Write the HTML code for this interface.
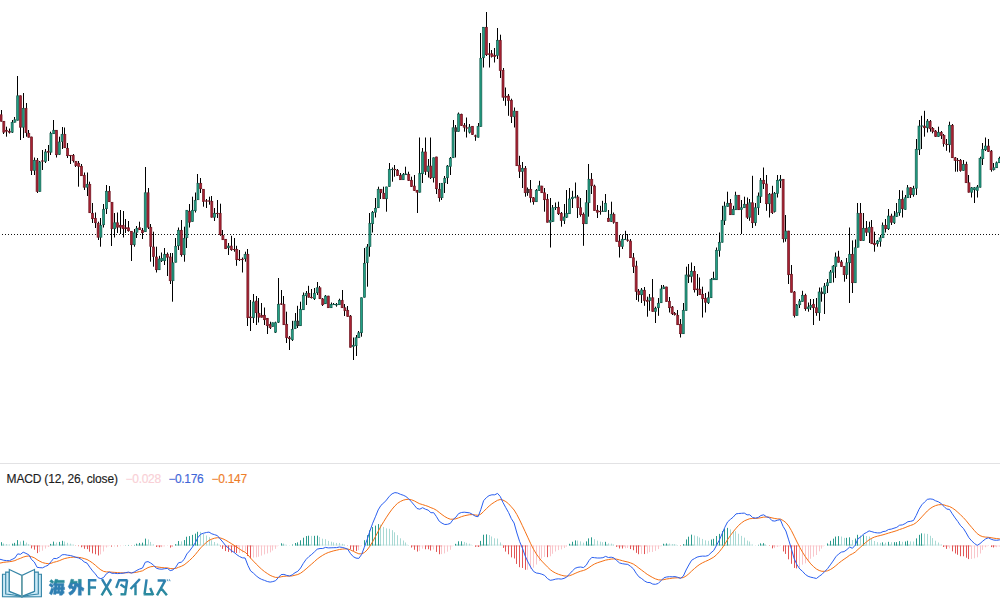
<!DOCTYPE html>
<html><head><meta charset="utf-8"><title>chart</title>
<style>
html,body{margin:0;padding:0;background:#fff;}
body{width:1000px;height:600px;overflow:hidden;position:relative;font-family:"Liberation Sans",sans-serif;}
svg{position:absolute;left:0;top:0;display:block}
.lbl{-webkit-text-stroke:0.15px currentColor;position:absolute;top:472px;font-size:12px;line-height:14px;white-space:nowrap;letter-spacing:0px}
</style></head><body>
<svg width="1000" height="600" viewBox="0 0 1000 600">
<rect width="1000" height="600" fill="#fff"/>
<line x1="2" y1="234.5" x2="1000" y2="234.5" stroke="#111" stroke-width="1" stroke-dasharray="1 2" shape-rendering="crispEdges"/>
<rect x="0" y="463" width="1000" height="1" fill="#e2e2e4"/>
<rect x="1" y="542.17" width="1" height="3.33" fill="#2a9a8c"/><rect x="3" y="543.42" width="1" height="2.08" fill="#a9d9d4"/><rect x="6" y="544.07" width="1" height="1.43" fill="#a9d9d4"/><rect x="9" y="544.48" width="1" height="1.02" fill="#a9d9d4"/><rect x="12" y="543.66" width="1" height="1.84" fill="#2a9a8c"/><rect x="14" y="542.85" width="1" height="2.65" fill="#2a9a8c"/><rect x="17" y="540.11" width="1" height="5.39" fill="#2a9a8c"/><rect x="20" y="541.51" width="1" height="3.99" fill="#a9d9d4"/><rect x="23" y="540.66" width="1" height="4.84" fill="#2a9a8c"/><rect x="26" y="542.59" width="1" height="2.91" fill="#a9d9d4"/><rect x="28" y="544.27" width="1" height="1.23" fill="#a9d9d4"/><rect x="31" y="545.50" width="1" height="2.87" fill="#e25555"/><rect x="34" y="545.50" width="1" height="4.17" fill="#e25555"/><rect x="37" y="545.50" width="1" height="7.60" fill="#e25555"/><rect x="39" y="545.50" width="1" height="6.42" fill="#f9c6cb"/><rect x="42" y="545.50" width="1" height="5.17" fill="#f9c6cb"/><rect x="45" y="545.50" width="1" height="3.04" fill="#f9c6cb"/><rect x="48" y="545.50" width="1" height="1.45" fill="#f9c6cb"/><rect x="50" y="543.89" width="1" height="1.61" fill="#2a9a8c"/><rect x="53" y="541.61" width="1" height="3.89" fill="#2a9a8c"/><rect x="56" y="542.54" width="1" height="2.96" fill="#a9d9d4"/><rect x="59" y="541.89" width="1" height="3.61" fill="#2a9a8c"/><rect x="62" y="540.81" width="1" height="4.69" fill="#2a9a8c"/><rect x="64" y="541.54" width="1" height="3.96" fill="#a9d9d4"/><rect x="67" y="542.82" width="1" height="2.68" fill="#a9d9d4"/><rect x="70" y="543.64" width="1" height="1.86" fill="#a9d9d4"/><rect x="73" y="544.60" width="1" height="0.90" fill="#a9d9d4"/><rect x="75" y="545.50" width="1" height="0.30" fill="#e25555"/><rect x="78" y="545.50" width="1" height="0.67" fill="#e25555"/><rect x="81" y="545.50" width="1" height="1.74" fill="#e25555"/><rect x="84" y="545.50" width="1" height="3.26" fill="#e25555"/><rect x="87" y="545.50" width="1" height="3.60" fill="#e25555"/><rect x="89" y="545.50" width="1" height="6.17" fill="#e25555"/><rect x="92" y="545.50" width="1" height="7.87" fill="#e25555"/><rect x="95" y="545.50" width="1" height="8.73" fill="#e25555"/><rect x="98" y="545.50" width="1" height="9.96" fill="#e25555"/><rect x="100" y="545.50" width="1" height="8.84" fill="#f9c6cb"/><rect x="103" y="545.50" width="1" height="5.96" fill="#f9c6cb"/><rect x="106" y="545.50" width="1" height="1.92" fill="#f9c6cb"/><rect x="109" y="545.50" width="1" height="0.30" fill="#f9c6cb"/><rect x="111" y="545.50" width="1" height="1.15" fill="#e25555"/><rect x="114" y="545.50" width="1" height="0.92" fill="#f9c6cb"/><rect x="117" y="545.50" width="1" height="0.94" fill="#e25555"/><rect x="120" y="545.50" width="1" height="0.64" fill="#f9c6cb"/><rect x="123" y="545.50" width="1" height="0.30" fill="#f9c6cb"/><rect x="125" y="545.32" width="1" height="0.30" fill="#2a9a8c"/><rect x="128" y="544.95" width="1" height="0.55" fill="#2a9a8c"/><rect x="131" y="545.50" width="1" height="0.30" fill="#e25555"/><rect x="134" y="544.88" width="1" height="0.62" fill="#2a9a8c"/><rect x="136" y="543.67" width="1" height="1.83" fill="#2a9a8c"/><rect x="139" y="542.95" width="1" height="2.55" fill="#2a9a8c"/><rect x="142" y="542.65" width="1" height="2.85" fill="#2a9a8c"/><rect x="145" y="538.62" width="1" height="6.88" fill="#2a9a8c"/><rect x="148" y="539.48" width="1" height="6.02" fill="#a9d9d4"/><rect x="150" y="541.91" width="1" height="3.59" fill="#a9d9d4"/><rect x="153" y="544.34" width="1" height="1.16" fill="#a9d9d4"/><rect x="156" y="545.50" width="1" height="1.47" fill="#e25555"/><rect x="159" y="545.50" width="1" height="1.78" fill="#e25555"/><rect x="161" y="545.50" width="1" height="1.61" fill="#f9c6cb"/><rect x="164" y="545.50" width="1" height="0.84" fill="#f9c6cb"/><rect x="167" y="545.50" width="1" height="0.43" fill="#f9c6cb"/><rect x="170" y="545.50" width="1" height="2.11" fill="#e25555"/><rect x="172" y="545.50" width="1" height="1.12" fill="#f9c6cb"/><rect x="175" y="544.19" width="1" height="1.31" fill="#2a9a8c"/><rect x="178" y="541.03" width="1" height="4.47" fill="#2a9a8c"/><rect x="181" y="541.40" width="1" height="4.10" fill="#a9d9d4"/><rect x="184" y="540.06" width="1" height="5.44" fill="#2a9a8c"/><rect x="186" y="536.73" width="1" height="8.77" fill="#2a9a8c"/><rect x="189" y="536.09" width="1" height="9.41" fill="#2a9a8c"/><rect x="192" y="534.88" width="1" height="10.62" fill="#2a9a8c"/><rect x="195" y="533.63" width="1" height="11.87" fill="#2a9a8c"/><rect x="197" y="531.79" width="1" height="13.71" fill="#2a9a8c"/><rect x="200" y="531.85" width="1" height="13.65" fill="#a9d9d4"/><rect x="203" y="533.76" width="1" height="11.74" fill="#a9d9d4"/><rect x="206" y="535.55" width="1" height="9.95" fill="#a9d9d4"/><rect x="209" y="537.21" width="1" height="8.29" fill="#a9d9d4"/><rect x="211" y="540.20" width="1" height="5.30" fill="#a9d9d4"/><rect x="214" y="541.99" width="1" height="3.51" fill="#a9d9d4"/><rect x="217" y="543.45" width="1" height="2.05" fill="#a9d9d4"/><rect x="220" y="545.50" width="1" height="0.98" fill="#e25555"/><rect x="222" y="545.50" width="1" height="3.36" fill="#e25555"/><rect x="225" y="545.50" width="1" height="5.56" fill="#e25555"/><rect x="228" y="545.50" width="1" height="6.39" fill="#e25555"/><rect x="231" y="545.50" width="1" height="6.99" fill="#e25555"/><rect x="234" y="545.50" width="1" height="7.01" fill="#e25555"/><rect x="236" y="545.50" width="1" height="7.57" fill="#e25555"/><rect x="239" y="545.50" width="1" height="7.51" fill="#f9c6cb"/><rect x="242" y="545.50" width="1" height="7.03" fill="#f9c6cb"/><rect x="245" y="545.50" width="1" height="5.75" fill="#f9c6cb"/><rect x="247" y="545.50" width="1" height="10.52" fill="#e25555"/><rect x="250" y="545.50" width="1" height="12.87" fill="#e25555"/><rect x="253" y="545.50" width="1" height="12.02" fill="#f9c6cb"/><rect x="256" y="545.50" width="1" height="11.76" fill="#f9c6cb"/><rect x="258" y="545.50" width="1" height="11.22" fill="#f9c6cb"/><rect x="261" y="545.50" width="1" height="10.09" fill="#f9c6cb"/><rect x="264" y="545.50" width="1" height="8.86" fill="#f9c6cb"/><rect x="267" y="545.50" width="1" height="7.94" fill="#f9c6cb"/><rect x="270" y="545.50" width="1" height="6.86" fill="#f9c6cb"/><rect x="272" y="545.50" width="1" height="5.04" fill="#f9c6cb"/><rect x="275" y="545.50" width="1" height="3.34" fill="#f9c6cb"/><rect x="278" y="545.50" width="1" height="0.30" fill="#f9c6cb"/><rect x="281" y="543.28" width="1" height="2.22" fill="#2a9a8c"/><rect x="283" y="543.56" width="1" height="1.94" fill="#a9d9d4"/><rect x="286" y="544.76" width="1" height="0.74" fill="#a9d9d4"/><rect x="289" y="545.36" width="1" height="0.30" fill="#a9d9d4"/><rect x="292" y="544.52" width="1" height="0.98" fill="#2a9a8c"/><rect x="295" y="543.00" width="1" height="2.50" fill="#2a9a8c"/><rect x="297" y="542.38" width="1" height="3.12" fill="#2a9a8c"/><rect x="300" y="540.30" width="1" height="5.20" fill="#2a9a8c"/><rect x="303" y="537.71" width="1" height="7.79" fill="#2a9a8c"/><rect x="306" y="536.06" width="1" height="9.44" fill="#2a9a8c"/><rect x="308" y="535.72" width="1" height="9.78" fill="#2a9a8c"/><rect x="311" y="535.87" width="1" height="9.63" fill="#a9d9d4"/><rect x="314" y="535.82" width="1" height="9.68" fill="#2a9a8c"/><rect x="317" y="535.63" width="1" height="9.87" fill="#2a9a8c"/><rect x="319" y="536.97" width="1" height="8.53" fill="#a9d9d4"/><rect x="322" y="538.70" width="1" height="6.80" fill="#a9d9d4"/><rect x="325" y="539.18" width="1" height="6.32" fill="#a9d9d4"/><rect x="328" y="540.87" width="1" height="4.63" fill="#a9d9d4"/><rect x="331" y="541.72" width="1" height="3.78" fill="#a9d9d4"/><rect x="333" y="542.39" width="1" height="3.11" fill="#a9d9d4"/><rect x="336" y="542.92" width="1" height="2.58" fill="#a9d9d4"/><rect x="339" y="542.96" width="1" height="2.54" fill="#a9d9d4"/><rect x="342" y="543.81" width="1" height="1.69" fill="#a9d9d4"/><rect x="344" y="544.67" width="1" height="0.83" fill="#a9d9d4"/><rect x="347" y="545.50" width="1" height="0.30" fill="#e25555"/><rect x="350" y="545.50" width="1" height="3.73" fill="#e25555"/><rect x="353" y="545.50" width="1" height="5.43" fill="#e25555"/><rect x="356" y="545.50" width="1" height="5.46" fill="#e25555"/><rect x="358" y="545.50" width="1" height="4.65" fill="#f9c6cb"/><rect x="361" y="545.50" width="1" height="0.56" fill="#f9c6cb"/><rect x="364" y="540.18" width="1" height="5.32" fill="#2a9a8c"/><rect x="367" y="535.18" width="1" height="10.32" fill="#2a9a8c"/><rect x="369" y="530.34" width="1" height="15.16" fill="#2a9a8c"/><rect x="372" y="527.06" width="1" height="18.44" fill="#2a9a8c"/><rect x="375" y="525.62" width="1" height="19.88" fill="#2a9a8c"/><rect x="378" y="524.07" width="1" height="21.43" fill="#2a9a8c"/><rect x="380" y="524.72" width="1" height="20.78" fill="#a9d9d4"/><rect x="383" y="526.94" width="1" height="18.56" fill="#a9d9d4"/><rect x="386" y="528.37" width="1" height="17.13" fill="#a9d9d4"/><rect x="389" y="528.77" width="1" height="16.73" fill="#a9d9d4"/><rect x="392" y="530.18" width="1" height="15.32" fill="#a9d9d4"/><rect x="394" y="532.29" width="1" height="13.21" fill="#a9d9d4"/><rect x="397" y="535.19" width="1" height="10.31" fill="#a9d9d4"/><rect x="400" y="538.31" width="1" height="7.19" fill="#a9d9d4"/><rect x="403" y="540.49" width="1" height="5.01" fill="#a9d9d4"/><rect x="405" y="542.48" width="1" height="3.02" fill="#a9d9d4"/><rect x="408" y="544.97" width="1" height="0.53" fill="#a9d9d4"/><rect x="411" y="545.50" width="1" height="2.01" fill="#e25555"/><rect x="414" y="545.50" width="1" height="4.29" fill="#e25555"/><rect x="417" y="545.50" width="1" height="6.04" fill="#e25555"/><rect x="419" y="545.50" width="1" height="5.40" fill="#f9c6cb"/><rect x="422" y="545.50" width="1" height="3.11" fill="#f9c6cb"/><rect x="425" y="545.50" width="1" height="3.73" fill="#e25555"/><rect x="428" y="545.50" width="1" height="3.73" fill="#e25555"/><rect x="430" y="545.50" width="1" height="5.02" fill="#e25555"/><rect x="433" y="545.50" width="1" height="3.99" fill="#f9c6cb"/><rect x="436" y="545.50" width="1" height="6.39" fill="#e25555"/><rect x="439" y="545.50" width="1" height="8.71" fill="#e25555"/><rect x="441" y="545.50" width="1" height="8.61" fill="#f9c6cb"/><rect x="444" y="545.50" width="1" height="7.90" fill="#f9c6cb"/><rect x="447" y="545.50" width="1" height="6.16" fill="#f9c6cb"/><rect x="450" y="545.50" width="1" height="4.26" fill="#f9c6cb"/><rect x="453" y="545.50" width="1" height="0.30" fill="#f9c6cb"/><rect x="455" y="543.84" width="1" height="1.66" fill="#2a9a8c"/><rect x="458" y="541.29" width="1" height="4.21" fill="#2a9a8c"/><rect x="461" y="541.28" width="1" height="4.22" fill="#2a9a8c"/><rect x="464" y="541.91" width="1" height="3.59" fill="#a9d9d4"/><rect x="466" y="542.85" width="1" height="2.65" fill="#a9d9d4"/><rect x="469" y="543.67" width="1" height="1.83" fill="#a9d9d4"/><rect x="472" y="545.30" width="1" height="0.30" fill="#a9d9d4"/><rect x="475" y="545.50" width="1" height="1.27" fill="#e25555"/><rect x="478" y="545.50" width="1" height="1.42" fill="#e25555"/><rect x="480" y="540.89" width="1" height="4.61" fill="#2a9a8c"/><rect x="483" y="534.74" width="1" height="10.76" fill="#2a9a8c"/><rect x="486" y="534.36" width="1" height="11.14" fill="#2a9a8c"/><rect x="489" y="535.00" width="1" height="10.50" fill="#a9d9d4"/><rect x="491" y="536.49" width="1" height="9.01" fill="#a9d9d4"/><rect x="494" y="538.27" width="1" height="7.23" fill="#a9d9d4"/><rect x="497" y="538.59" width="1" height="6.91" fill="#a9d9d4"/><rect x="500" y="542.43" width="1" height="3.07" fill="#a9d9d4"/><rect x="503" y="545.50" width="1" height="2.38" fill="#e25555"/><rect x="505" y="545.50" width="1" height="6.08" fill="#e25555"/><rect x="508" y="545.50" width="1" height="8.78" fill="#e25555"/><rect x="511" y="545.50" width="1" height="11.86" fill="#e25555"/><rect x="514" y="545.50" width="1" height="12.96" fill="#e25555"/><rect x="516" y="545.50" width="1" height="18.42" fill="#e25555"/><rect x="519" y="545.50" width="1" height="21.67" fill="#e25555"/><rect x="522" y="545.50" width="1" height="22.46" fill="#e25555"/><rect x="525" y="545.50" width="1" height="24.26" fill="#e25555"/><rect x="527" y="545.50" width="1" height="24.24" fill="#f9c6cb"/><rect x="530" y="545.50" width="1" height="23.48" fill="#f9c6cb"/><rect x="533" y="545.50" width="1" height="22.16" fill="#f9c6cb"/><rect x="536" y="545.50" width="1" height="19.01" fill="#f9c6cb"/><rect x="539" y="545.50" width="1" height="15.53" fill="#f9c6cb"/><rect x="541" y="545.50" width="1" height="13.11" fill="#f9c6cb"/><rect x="544" y="545.50" width="1" height="11.41" fill="#f9c6cb"/><rect x="547" y="545.50" width="1" height="11.66" fill="#e25555"/><rect x="550" y="545.50" width="1" height="10.76" fill="#f9c6cb"/><rect x="552" y="545.50" width="1" height="8.25" fill="#f9c6cb"/><rect x="555" y="545.50" width="1" height="5.95" fill="#f9c6cb"/><rect x="558" y="545.50" width="1" height="4.58" fill="#f9c6cb"/><rect x="561" y="545.50" width="1" height="3.85" fill="#f9c6cb"/><rect x="564" y="545.50" width="1" height="2.52" fill="#f9c6cb"/><rect x="566" y="545.50" width="1" height="0.93" fill="#f9c6cb"/><rect x="569" y="543.77" width="1" height="1.73" fill="#2a9a8c"/><rect x="572" y="541.75" width="1" height="3.75" fill="#2a9a8c"/><rect x="575" y="540.38" width="1" height="5.12" fill="#2a9a8c"/><rect x="577" y="540.57" width="1" height="4.93" fill="#a9d9d4"/><rect x="580" y="541.35" width="1" height="4.15" fill="#a9d9d4"/><rect x="583" y="542.65" width="1" height="2.85" fill="#a9d9d4"/><rect x="586" y="541.38" width="1" height="4.12" fill="#2a9a8c"/><rect x="588" y="538.38" width="1" height="7.12" fill="#2a9a8c"/><rect x="591" y="537.32" width="1" height="8.18" fill="#2a9a8c"/><rect x="594" y="539.20" width="1" height="6.30" fill="#a9d9d4"/><rect x="597" y="540.68" width="1" height="4.82" fill="#a9d9d4"/><rect x="600" y="541.65" width="1" height="3.85" fill="#a9d9d4"/><rect x="602" y="542.19" width="1" height="3.31" fill="#a9d9d4"/><rect x="605" y="541.83" width="1" height="3.67" fill="#2a9a8c"/><rect x="608" y="543.39" width="1" height="2.11" fill="#a9d9d4"/><rect x="611" y="543.62" width="1" height="1.88" fill="#a9d9d4"/><rect x="613" y="544.53" width="1" height="0.97" fill="#a9d9d4"/><rect x="616" y="545.50" width="1" height="1.30" fill="#e25555"/><rect x="619" y="545.50" width="1" height="2.98" fill="#e25555"/><rect x="622" y="545.50" width="1" height="3.02" fill="#e25555"/><rect x="625" y="545.50" width="1" height="2.75" fill="#f9c6cb"/><rect x="627" y="545.50" width="1" height="2.44" fill="#f9c6cb"/><rect x="630" y="545.50" width="1" height="3.56" fill="#e25555"/><rect x="633" y="545.50" width="1" height="4.72" fill="#e25555"/><rect x="636" y="545.50" width="1" height="7.34" fill="#e25555"/><rect x="638" y="545.50" width="1" height="8.71" fill="#e25555"/><rect x="641" y="545.50" width="1" height="8.40" fill="#f9c6cb"/><rect x="644" y="545.50" width="1" height="8.57" fill="#e25555"/><rect x="647" y="545.50" width="1" height="8.05" fill="#f9c6cb"/><rect x="649" y="545.50" width="1" height="6.65" fill="#f9c6cb"/><rect x="652" y="545.50" width="1" height="6.45" fill="#f9c6cb"/><rect x="655" y="545.50" width="1" height="5.34" fill="#f9c6cb"/><rect x="658" y="545.50" width="1" height="3.59" fill="#f9c6cb"/><rect x="661" y="545.50" width="1" height="0.65" fill="#f9c6cb"/><rect x="663" y="543.76" width="1" height="1.74" fill="#2a9a8c"/><rect x="666" y="543.43" width="1" height="2.07" fill="#2a9a8c"/><rect x="669" y="543.61" width="1" height="1.89" fill="#a9d9d4"/><rect x="672" y="544.06" width="1" height="1.44" fill="#a9d9d4"/><rect x="674" y="544.21" width="1" height="1.29" fill="#a9d9d4"/><rect x="677" y="544.99" width="1" height="0.51" fill="#a9d9d4"/><rect x="680" y="545.50" width="1" height="0.54" fill="#e25555"/><rect x="683" y="544.14" width="1" height="1.36" fill="#2a9a8c"/><rect x="686" y="539.43" width="1" height="6.07" fill="#2a9a8c"/><rect x="688" y="536.70" width="1" height="8.80" fill="#2a9a8c"/><rect x="691" y="534.65" width="1" height="10.85" fill="#2a9a8c"/><rect x="694" y="535.46" width="1" height="10.04" fill="#a9d9d4"/><rect x="697" y="536.27" width="1" height="9.23" fill="#a9d9d4"/><rect x="699" y="537.53" width="1" height="7.97" fill="#a9d9d4"/><rect x="702" y="538.93" width="1" height="6.57" fill="#a9d9d4"/><rect x="705" y="540.31" width="1" height="5.19" fill="#a9d9d4"/><rect x="708" y="540.83" width="1" height="4.67" fill="#a9d9d4"/><rect x="711" y="539.54" width="1" height="5.96" fill="#2a9a8c"/><rect x="713" y="538.82" width="1" height="6.68" fill="#2a9a8c"/><rect x="716" y="536.00" width="1" height="9.50" fill="#2a9a8c"/><rect x="719" y="533.89" width="1" height="11.61" fill="#2a9a8c"/><rect x="722" y="531.07" width="1" height="14.43" fill="#2a9a8c"/><rect x="724" y="528.71" width="1" height="16.79" fill="#2a9a8c"/><rect x="727" y="527.85" width="1" height="17.65" fill="#2a9a8c"/><rect x="730" y="529.40" width="1" height="16.10" fill="#a9d9d4"/><rect x="733" y="530.74" width="1" height="14.76" fill="#a9d9d4"/><rect x="735" y="531.17" width="1" height="14.33" fill="#a9d9d4"/><rect x="738" y="533.73" width="1" height="11.77" fill="#a9d9d4"/><rect x="741" y="535.89" width="1" height="9.61" fill="#a9d9d4"/><rect x="744" y="537.62" width="1" height="7.88" fill="#a9d9d4"/><rect x="747" y="540.59" width="1" height="4.91" fill="#a9d9d4"/><rect x="749" y="541.54" width="1" height="3.96" fill="#a9d9d4"/><rect x="752" y="544.48" width="1" height="1.02" fill="#a9d9d4"/><rect x="755" y="545.18" width="1" height="0.32" fill="#a9d9d4"/><rect x="758" y="544.78" width="1" height="0.72" fill="#2a9a8c"/><rect x="760" y="543.34" width="1" height="2.16" fill="#2a9a8c"/><rect x="763" y="543.17" width="1" height="2.33" fill="#2a9a8c"/><rect x="766" y="545.29" width="1" height="0.30" fill="#a9d9d4"/><rect x="769" y="545.50" width="1" height="0.45" fill="#e25555"/><rect x="772" y="545.50" width="1" height="2.86" fill="#e25555"/><rect x="774" y="545.50" width="1" height="2.60" fill="#f9c6cb"/><rect x="777" y="545.50" width="1" height="1.33" fill="#f9c6cb"/><rect x="780" y="545.50" width="1" height="0.61" fill="#f9c6cb"/><rect x="783" y="545.50" width="1" height="5.93" fill="#e25555"/><rect x="785" y="545.50" width="1" height="8.41" fill="#e25555"/><rect x="788" y="545.50" width="1" height="13.83" fill="#e25555"/><rect x="791" y="545.50" width="1" height="18.30" fill="#e25555"/><rect x="794" y="545.50" width="1" height="22.43" fill="#e25555"/><rect x="796" y="545.50" width="1" height="22.89" fill="#e25555"/><rect x="799" y="545.50" width="1" height="21.64" fill="#f9c6cb"/><rect x="802" y="545.50" width="1" height="19.15" fill="#f9c6cb"/><rect x="805" y="545.50" width="1" height="17.82" fill="#f9c6cb"/><rect x="808" y="545.50" width="1" height="15.73" fill="#f9c6cb"/><rect x="810" y="545.50" width="1" height="13.29" fill="#f9c6cb"/><rect x="813" y="545.50" width="1" height="11.17" fill="#f9c6cb"/><rect x="816" y="545.50" width="1" height="9.51" fill="#f9c6cb"/><rect x="819" y="545.50" width="1" height="5.78" fill="#f9c6cb"/><rect x="821" y="545.50" width="1" height="3.11" fill="#f9c6cb"/><rect x="824" y="545.50" width="1" height="0.30" fill="#f9c6cb"/><rect x="827" y="543.42" width="1" height="2.08" fill="#2a9a8c"/><rect x="830" y="540.81" width="1" height="4.69" fill="#2a9a8c"/><rect x="833" y="538.65" width="1" height="6.85" fill="#2a9a8c"/><rect x="835" y="536.59" width="1" height="8.91" fill="#2a9a8c"/><rect x="838" y="536.12" width="1" height="9.38" fill="#2a9a8c"/><rect x="841" y="536.53" width="1" height="8.97" fill="#a9d9d4"/><rect x="844" y="537.88" width="1" height="7.62" fill="#a9d9d4"/><rect x="846" y="537.83" width="1" height="7.67" fill="#2a9a8c"/><rect x="849" y="537.29" width="1" height="8.21" fill="#2a9a8c"/><rect x="852" y="539.98" width="1" height="5.52" fill="#a9d9d4"/><rect x="855" y="538.57" width="1" height="6.93" fill="#2a9a8c"/><rect x="857" y="534.78" width="1" height="10.72" fill="#2a9a8c"/><rect x="860" y="535.50" width="1" height="10.00" fill="#a9d9d4"/><rect x="863" y="535.27" width="1" height="10.23" fill="#2a9a8c"/><rect x="866" y="536.08" width="1" height="9.42" fill="#a9d9d4"/><rect x="869" y="536.59" width="1" height="8.91" fill="#a9d9d4"/><rect x="871" y="539.00" width="1" height="6.50" fill="#a9d9d4"/><rect x="874" y="541.00" width="1" height="4.50" fill="#a9d9d4"/><rect x="877" y="542.17" width="1" height="3.33" fill="#a9d9d4"/><rect x="880" y="542.85" width="1" height="2.65" fill="#a9d9d4"/><rect x="882" y="542.33" width="1" height="3.17" fill="#2a9a8c"/><rect x="885" y="542.63" width="1" height="2.87" fill="#a9d9d4"/><rect x="888" y="541.84" width="1" height="3.66" fill="#2a9a8c"/><rect x="891" y="542.26" width="1" height="3.24" fill="#a9d9d4"/><rect x="894" y="542.19" width="1" height="3.31" fill="#2a9a8c"/><rect x="896" y="542.12" width="1" height="3.38" fill="#2a9a8c"/><rect x="899" y="541.13" width="1" height="4.37" fill="#2a9a8c"/><rect x="902" y="541.81" width="1" height="3.69" fill="#a9d9d4"/><rect x="905" y="541.50" width="1" height="4.00" fill="#2a9a8c"/><rect x="907" y="540.74" width="1" height="4.76" fill="#2a9a8c"/><rect x="910" y="541.38" width="1" height="4.12" fill="#a9d9d4"/><rect x="913" y="541.54" width="1" height="3.96" fill="#a9d9d4"/><rect x="916" y="538.39" width="1" height="7.11" fill="#2a9a8c"/><rect x="919" y="534.82" width="1" height="10.68" fill="#2a9a8c"/><rect x="921" y="533.35" width="1" height="12.15" fill="#2a9a8c"/><rect x="924" y="533.54" width="1" height="11.96" fill="#a9d9d4"/><rect x="927" y="533.90" width="1" height="11.60" fill="#a9d9d4"/><rect x="930" y="535.80" width="1" height="9.70" fill="#a9d9d4"/><rect x="932" y="538.08" width="1" height="7.42" fill="#a9d9d4"/><rect x="935" y="540.70" width="1" height="4.80" fill="#a9d9d4"/><rect x="938" y="542.52" width="1" height="2.98" fill="#a9d9d4"/><rect x="941" y="544.53" width="1" height="0.97" fill="#a9d9d4"/><rect x="943" y="545.50" width="1" height="1.46" fill="#e25555"/><rect x="946" y="545.50" width="1" height="3.37" fill="#e25555"/><rect x="949" y="545.50" width="1" height="2.88" fill="#f9c6cb"/><rect x="952" y="545.50" width="1" height="5.83" fill="#e25555"/><rect x="955" y="545.50" width="1" height="7.97" fill="#e25555"/><rect x="957" y="545.50" width="1" height="9.23" fill="#e25555"/><rect x="960" y="545.50" width="1" height="10.74" fill="#e25555"/><rect x="963" y="545.50" width="1" height="10.76" fill="#e25555"/><rect x="966" y="545.50" width="1" height="12.22" fill="#e25555"/><rect x="968" y="545.50" width="1" height="13.59" fill="#e25555"/><rect x="971" y="545.50" width="1" height="13.46" fill="#f9c6cb"/><rect x="974" y="545.50" width="1" height="12.83" fill="#f9c6cb"/><rect x="977" y="545.50" width="1" height="11.81" fill="#f9c6cb"/><rect x="980" y="545.50" width="1" height="7.99" fill="#f9c6cb"/><rect x="982" y="545.50" width="1" height="4.42" fill="#f9c6cb"/><rect x="985" y="545.50" width="1" height="1.72" fill="#f9c6cb"/><rect x="988" y="545.50" width="1" height="0.56" fill="#f9c6cb"/><rect x="991" y="545.50" width="1" height="1.57" fill="#e25555"/><rect x="993" y="545.50" width="1" height="1.94" fill="#e25555"/><rect x="996" y="545.50" width="1" height="1.67" fill="#f9c6cb"/><rect x="999" y="545.50" width="1" height="1.05" fill="#f9c6cb"/>
<rect x="1" y="544.60" width="3" height="0.9" fill="#2a9a8c" opacity="0.55"/><rect x="3" y="544.60" width="3" height="0.9" fill="#a9d9d4" opacity="0.55"/><rect x="6" y="544.60" width="3" height="0.9" fill="#a9d9d4" opacity="0.55"/><rect x="12" y="544.60" width="3" height="0.9" fill="#2a9a8c" opacity="0.55"/><rect x="14" y="544.60" width="3" height="0.9" fill="#2a9a8c" opacity="0.55"/><rect x="17" y="544.60" width="3" height="0.9" fill="#2a9a8c" opacity="0.55"/><rect x="20" y="544.60" width="3" height="0.9" fill="#a9d9d4" opacity="0.55"/><rect x="23" y="544.60" width="3" height="0.9" fill="#2a9a8c" opacity="0.55"/><rect x="26" y="544.60" width="3" height="0.9" fill="#a9d9d4" opacity="0.55"/><rect x="28" y="544.60" width="3" height="0.9" fill="#a9d9d4" opacity="0.55"/><rect x="31" y="545.50" width="3" height="0.9" fill="#e25555" opacity="0.55"/><rect x="34" y="545.50" width="3" height="0.9" fill="#e25555" opacity="0.55"/><rect x="37" y="545.50" width="3" height="0.9" fill="#e25555" opacity="0.55"/><rect x="39" y="545.50" width="3" height="0.9" fill="#f9c6cb" opacity="0.55"/><rect x="42" y="545.50" width="3" height="0.9" fill="#f9c6cb" opacity="0.55"/><rect x="45" y="545.50" width="3" height="0.9" fill="#f9c6cb" opacity="0.55"/><rect x="48" y="545.50" width="3" height="0.9" fill="#f9c6cb" opacity="0.55"/><rect x="50" y="544.60" width="3" height="0.9" fill="#2a9a8c" opacity="0.55"/><rect x="53" y="544.60" width="3" height="0.9" fill="#2a9a8c" opacity="0.55"/><rect x="56" y="544.60" width="3" height="0.9" fill="#a9d9d4" opacity="0.55"/><rect x="59" y="544.60" width="3" height="0.9" fill="#2a9a8c" opacity="0.55"/><rect x="62" y="544.60" width="3" height="0.9" fill="#2a9a8c" opacity="0.55"/><rect x="64" y="544.60" width="3" height="0.9" fill="#a9d9d4" opacity="0.55"/><rect x="67" y="544.60" width="3" height="0.9" fill="#a9d9d4" opacity="0.55"/><rect x="70" y="544.60" width="3" height="0.9" fill="#a9d9d4" opacity="0.55"/><rect x="81" y="545.50" width="3" height="0.9" fill="#e25555" opacity="0.55"/><rect x="84" y="545.50" width="3" height="0.9" fill="#e25555" opacity="0.55"/><rect x="87" y="545.50" width="3" height="0.9" fill="#e25555" opacity="0.55"/><rect x="89" y="545.50" width="3" height="0.9" fill="#e25555" opacity="0.55"/><rect x="92" y="545.50" width="3" height="0.9" fill="#e25555" opacity="0.55"/><rect x="95" y="545.50" width="3" height="0.9" fill="#e25555" opacity="0.55"/><rect x="98" y="545.50" width="3" height="0.9" fill="#e25555" opacity="0.55"/><rect x="100" y="545.50" width="3" height="0.9" fill="#f9c6cb" opacity="0.55"/><rect x="103" y="545.50" width="3" height="0.9" fill="#f9c6cb" opacity="0.55"/><rect x="106" y="545.50" width="3" height="0.9" fill="#f9c6cb" opacity="0.55"/><rect x="136" y="544.60" width="3" height="0.9" fill="#2a9a8c" opacity="0.55"/><rect x="139" y="544.60" width="3" height="0.9" fill="#2a9a8c" opacity="0.55"/><rect x="142" y="544.60" width="3" height="0.9" fill="#2a9a8c" opacity="0.55"/><rect x="145" y="544.60" width="3" height="0.9" fill="#2a9a8c" opacity="0.55"/><rect x="148" y="544.60" width="3" height="0.9" fill="#a9d9d4" opacity="0.55"/><rect x="150" y="544.60" width="3" height="0.9" fill="#a9d9d4" opacity="0.55"/><rect x="156" y="545.50" width="3" height="0.9" fill="#e25555" opacity="0.55"/><rect x="159" y="545.50" width="3" height="0.9" fill="#e25555" opacity="0.55"/><rect x="161" y="545.50" width="3" height="0.9" fill="#f9c6cb" opacity="0.55"/><rect x="170" y="545.50" width="3" height="0.9" fill="#e25555" opacity="0.55"/><rect x="175" y="544.60" width="3" height="0.9" fill="#2a9a8c" opacity="0.55"/><rect x="178" y="544.60" width="3" height="0.9" fill="#2a9a8c" opacity="0.55"/><rect x="181" y="544.60" width="3" height="0.9" fill="#a9d9d4" opacity="0.55"/><rect x="184" y="544.60" width="3" height="0.9" fill="#2a9a8c" opacity="0.55"/><rect x="186" y="544.60" width="3" height="0.9" fill="#2a9a8c" opacity="0.55"/><rect x="189" y="544.60" width="3" height="0.9" fill="#2a9a8c" opacity="0.55"/><rect x="192" y="544.60" width="3" height="0.9" fill="#2a9a8c" opacity="0.55"/><rect x="195" y="544.60" width="3" height="0.9" fill="#2a9a8c" opacity="0.55"/><rect x="197" y="544.60" width="3" height="0.9" fill="#2a9a8c" opacity="0.55"/><rect x="200" y="544.60" width="3" height="0.9" fill="#a9d9d4" opacity="0.55"/><rect x="203" y="544.60" width="3" height="0.9" fill="#a9d9d4" opacity="0.55"/><rect x="206" y="544.60" width="3" height="0.9" fill="#a9d9d4" opacity="0.55"/><rect x="209" y="544.60" width="3" height="0.9" fill="#a9d9d4" opacity="0.55"/><rect x="211" y="544.60" width="3" height="0.9" fill="#a9d9d4" opacity="0.55"/><rect x="214" y="544.60" width="3" height="0.9" fill="#a9d9d4" opacity="0.55"/><rect x="217" y="544.60" width="3" height="0.9" fill="#a9d9d4" opacity="0.55"/><rect x="222" y="545.50" width="3" height="0.9" fill="#e25555" opacity="0.55"/><rect x="225" y="545.50" width="3" height="0.9" fill="#e25555" opacity="0.55"/><rect x="228" y="545.50" width="3" height="0.9" fill="#e25555" opacity="0.55"/><rect x="231" y="545.50" width="3" height="0.9" fill="#e25555" opacity="0.55"/><rect x="234" y="545.50" width="3" height="0.9" fill="#e25555" opacity="0.55"/><rect x="236" y="545.50" width="3" height="0.9" fill="#e25555" opacity="0.55"/><rect x="239" y="545.50" width="3" height="0.9" fill="#f9c6cb" opacity="0.55"/><rect x="242" y="545.50" width="3" height="0.9" fill="#f9c6cb" opacity="0.55"/><rect x="245" y="545.50" width="3" height="0.9" fill="#f9c6cb" opacity="0.55"/><rect x="247" y="545.50" width="3" height="0.9" fill="#e25555" opacity="0.55"/><rect x="250" y="545.50" width="3" height="0.9" fill="#e25555" opacity="0.55"/><rect x="253" y="545.50" width="3" height="0.9" fill="#f9c6cb" opacity="0.55"/><rect x="256" y="545.50" width="3" height="0.9" fill="#f9c6cb" opacity="0.55"/><rect x="258" y="545.50" width="3" height="0.9" fill="#f9c6cb" opacity="0.55"/><rect x="261" y="545.50" width="3" height="0.9" fill="#f9c6cb" opacity="0.55"/><rect x="264" y="545.50" width="3" height="0.9" fill="#f9c6cb" opacity="0.55"/><rect x="267" y="545.50" width="3" height="0.9" fill="#f9c6cb" opacity="0.55"/><rect x="270" y="545.50" width="3" height="0.9" fill="#f9c6cb" opacity="0.55"/><rect x="272" y="545.50" width="3" height="0.9" fill="#f9c6cb" opacity="0.55"/><rect x="275" y="545.50" width="3" height="0.9" fill="#f9c6cb" opacity="0.55"/><rect x="281" y="544.60" width="3" height="0.9" fill="#2a9a8c" opacity="0.55"/><rect x="283" y="544.60" width="3" height="0.9" fill="#a9d9d4" opacity="0.55"/><rect x="295" y="544.60" width="3" height="0.9" fill="#2a9a8c" opacity="0.55"/><rect x="297" y="544.60" width="3" height="0.9" fill="#2a9a8c" opacity="0.55"/><rect x="300" y="544.60" width="3" height="0.9" fill="#2a9a8c" opacity="0.55"/><rect x="303" y="544.60" width="3" height="0.9" fill="#2a9a8c" opacity="0.55"/><rect x="306" y="544.60" width="3" height="0.9" fill="#2a9a8c" opacity="0.55"/><rect x="308" y="544.60" width="3" height="0.9" fill="#2a9a8c" opacity="0.55"/><rect x="311" y="544.60" width="3" height="0.9" fill="#a9d9d4" opacity="0.55"/><rect x="314" y="544.60" width="3" height="0.9" fill="#2a9a8c" opacity="0.55"/><rect x="317" y="544.60" width="3" height="0.9" fill="#2a9a8c" opacity="0.55"/><rect x="319" y="544.60" width="3" height="0.9" fill="#a9d9d4" opacity="0.55"/><rect x="322" y="544.60" width="3" height="0.9" fill="#a9d9d4" opacity="0.55"/><rect x="325" y="544.60" width="3" height="0.9" fill="#a9d9d4" opacity="0.55"/><rect x="328" y="544.60" width="3" height="0.9" fill="#a9d9d4" opacity="0.55"/><rect x="331" y="544.60" width="3" height="0.9" fill="#a9d9d4" opacity="0.55"/><rect x="333" y="544.60" width="3" height="0.9" fill="#a9d9d4" opacity="0.55"/><rect x="336" y="544.60" width="3" height="0.9" fill="#a9d9d4" opacity="0.55"/><rect x="339" y="544.60" width="3" height="0.9" fill="#a9d9d4" opacity="0.55"/><rect x="342" y="544.60" width="3" height="0.9" fill="#a9d9d4" opacity="0.55"/><rect x="350" y="545.50" width="3" height="0.9" fill="#e25555" opacity="0.55"/><rect x="353" y="545.50" width="3" height="0.9" fill="#e25555" opacity="0.55"/><rect x="356" y="545.50" width="3" height="0.9" fill="#e25555" opacity="0.55"/><rect x="358" y="545.50" width="3" height="0.9" fill="#f9c6cb" opacity="0.55"/><rect x="364" y="544.60" width="3" height="0.9" fill="#2a9a8c" opacity="0.55"/><rect x="367" y="544.60" width="3" height="0.9" fill="#2a9a8c" opacity="0.55"/><rect x="369" y="544.60" width="3" height="0.9" fill="#2a9a8c" opacity="0.55"/><rect x="372" y="544.60" width="3" height="0.9" fill="#2a9a8c" opacity="0.55"/><rect x="375" y="544.60" width="3" height="0.9" fill="#2a9a8c" opacity="0.55"/><rect x="378" y="544.60" width="3" height="0.9" fill="#2a9a8c" opacity="0.55"/><rect x="380" y="544.60" width="3" height="0.9" fill="#a9d9d4" opacity="0.55"/><rect x="383" y="544.60" width="3" height="0.9" fill="#a9d9d4" opacity="0.55"/><rect x="386" y="544.60" width="3" height="0.9" fill="#a9d9d4" opacity="0.55"/><rect x="389" y="544.60" width="3" height="0.9" fill="#a9d9d4" opacity="0.55"/><rect x="392" y="544.60" width="3" height="0.9" fill="#a9d9d4" opacity="0.55"/><rect x="394" y="544.60" width="3" height="0.9" fill="#a9d9d4" opacity="0.55"/><rect x="397" y="544.60" width="3" height="0.9" fill="#a9d9d4" opacity="0.55"/><rect x="400" y="544.60" width="3" height="0.9" fill="#a9d9d4" opacity="0.55"/><rect x="403" y="544.60" width="3" height="0.9" fill="#a9d9d4" opacity="0.55"/><rect x="405" y="544.60" width="3" height="0.9" fill="#a9d9d4" opacity="0.55"/><rect x="411" y="545.50" width="3" height="0.9" fill="#e25555" opacity="0.55"/><rect x="414" y="545.50" width="3" height="0.9" fill="#e25555" opacity="0.55"/><rect x="417" y="545.50" width="3" height="0.9" fill="#e25555" opacity="0.55"/><rect x="419" y="545.50" width="3" height="0.9" fill="#f9c6cb" opacity="0.55"/><rect x="422" y="545.50" width="3" height="0.9" fill="#f9c6cb" opacity="0.55"/><rect x="425" y="545.50" width="3" height="0.9" fill="#e25555" opacity="0.55"/><rect x="428" y="545.50" width="3" height="0.9" fill="#e25555" opacity="0.55"/><rect x="430" y="545.50" width="3" height="0.9" fill="#e25555" opacity="0.55"/><rect x="433" y="545.50" width="3" height="0.9" fill="#f9c6cb" opacity="0.55"/><rect x="436" y="545.50" width="3" height="0.9" fill="#e25555" opacity="0.55"/><rect x="439" y="545.50" width="3" height="0.9" fill="#e25555" opacity="0.55"/><rect x="441" y="545.50" width="3" height="0.9" fill="#f9c6cb" opacity="0.55"/><rect x="444" y="545.50" width="3" height="0.9" fill="#f9c6cb" opacity="0.55"/><rect x="447" y="545.50" width="3" height="0.9" fill="#f9c6cb" opacity="0.55"/><rect x="450" y="545.50" width="3" height="0.9" fill="#f9c6cb" opacity="0.55"/><rect x="455" y="544.60" width="3" height="0.9" fill="#2a9a8c" opacity="0.55"/><rect x="458" y="544.60" width="3" height="0.9" fill="#2a9a8c" opacity="0.55"/><rect x="461" y="544.60" width="3" height="0.9" fill="#2a9a8c" opacity="0.55"/><rect x="464" y="544.60" width="3" height="0.9" fill="#a9d9d4" opacity="0.55"/><rect x="466" y="544.60" width="3" height="0.9" fill="#a9d9d4" opacity="0.55"/><rect x="469" y="544.60" width="3" height="0.9" fill="#a9d9d4" opacity="0.55"/><rect x="475" y="545.50" width="3" height="0.9" fill="#e25555" opacity="0.55"/><rect x="478" y="545.50" width="3" height="0.9" fill="#e25555" opacity="0.55"/><rect x="480" y="544.60" width="3" height="0.9" fill="#2a9a8c" opacity="0.55"/><rect x="483" y="544.60" width="3" height="0.9" fill="#2a9a8c" opacity="0.55"/><rect x="486" y="544.60" width="3" height="0.9" fill="#2a9a8c" opacity="0.55"/><rect x="489" y="544.60" width="3" height="0.9" fill="#a9d9d4" opacity="0.55"/><rect x="491" y="544.60" width="3" height="0.9" fill="#a9d9d4" opacity="0.55"/><rect x="494" y="544.60" width="3" height="0.9" fill="#a9d9d4" opacity="0.55"/><rect x="497" y="544.60" width="3" height="0.9" fill="#a9d9d4" opacity="0.55"/><rect x="500" y="544.60" width="3" height="0.9" fill="#a9d9d4" opacity="0.55"/><rect x="503" y="545.50" width="3" height="0.9" fill="#e25555" opacity="0.55"/><rect x="505" y="545.50" width="3" height="0.9" fill="#e25555" opacity="0.55"/><rect x="508" y="545.50" width="3" height="0.9" fill="#e25555" opacity="0.55"/><rect x="511" y="545.50" width="3" height="0.9" fill="#e25555" opacity="0.55"/><rect x="514" y="545.50" width="3" height="0.9" fill="#e25555" opacity="0.55"/><rect x="516" y="545.50" width="3" height="0.9" fill="#e25555" opacity="0.55"/><rect x="519" y="545.50" width="3" height="0.9" fill="#e25555" opacity="0.55"/><rect x="522" y="545.50" width="3" height="0.9" fill="#e25555" opacity="0.55"/><rect x="525" y="545.50" width="3" height="0.9" fill="#e25555" opacity="0.55"/><rect x="527" y="545.50" width="3" height="0.9" fill="#f9c6cb" opacity="0.55"/><rect x="530" y="545.50" width="3" height="0.9" fill="#f9c6cb" opacity="0.55"/><rect x="533" y="545.50" width="3" height="0.9" fill="#f9c6cb" opacity="0.55"/><rect x="536" y="545.50" width="3" height="0.9" fill="#f9c6cb" opacity="0.55"/><rect x="539" y="545.50" width="3" height="0.9" fill="#f9c6cb" opacity="0.55"/><rect x="541" y="545.50" width="3" height="0.9" fill="#f9c6cb" opacity="0.55"/><rect x="544" y="545.50" width="3" height="0.9" fill="#f9c6cb" opacity="0.55"/><rect x="547" y="545.50" width="3" height="0.9" fill="#e25555" opacity="0.55"/><rect x="550" y="545.50" width="3" height="0.9" fill="#f9c6cb" opacity="0.55"/><rect x="552" y="545.50" width="3" height="0.9" fill="#f9c6cb" opacity="0.55"/><rect x="555" y="545.50" width="3" height="0.9" fill="#f9c6cb" opacity="0.55"/><rect x="558" y="545.50" width="3" height="0.9" fill="#f9c6cb" opacity="0.55"/><rect x="561" y="545.50" width="3" height="0.9" fill="#f9c6cb" opacity="0.55"/><rect x="564" y="545.50" width="3" height="0.9" fill="#f9c6cb" opacity="0.55"/><rect x="569" y="544.60" width="3" height="0.9" fill="#2a9a8c" opacity="0.55"/><rect x="572" y="544.60" width="3" height="0.9" fill="#2a9a8c" opacity="0.55"/><rect x="575" y="544.60" width="3" height="0.9" fill="#2a9a8c" opacity="0.55"/><rect x="577" y="544.60" width="3" height="0.9" fill="#a9d9d4" opacity="0.55"/><rect x="580" y="544.60" width="3" height="0.9" fill="#a9d9d4" opacity="0.55"/><rect x="583" y="544.60" width="3" height="0.9" fill="#a9d9d4" opacity="0.55"/><rect x="586" y="544.60" width="3" height="0.9" fill="#2a9a8c" opacity="0.55"/><rect x="588" y="544.60" width="3" height="0.9" fill="#2a9a8c" opacity="0.55"/><rect x="591" y="544.60" width="3" height="0.9" fill="#2a9a8c" opacity="0.55"/><rect x="594" y="544.60" width="3" height="0.9" fill="#a9d9d4" opacity="0.55"/><rect x="597" y="544.60" width="3" height="0.9" fill="#a9d9d4" opacity="0.55"/><rect x="600" y="544.60" width="3" height="0.9" fill="#a9d9d4" opacity="0.55"/><rect x="602" y="544.60" width="3" height="0.9" fill="#a9d9d4" opacity="0.55"/><rect x="605" y="544.60" width="3" height="0.9" fill="#2a9a8c" opacity="0.55"/><rect x="608" y="544.60" width="3" height="0.9" fill="#a9d9d4" opacity="0.55"/><rect x="611" y="544.60" width="3" height="0.9" fill="#a9d9d4" opacity="0.55"/><rect x="616" y="545.50" width="3" height="0.9" fill="#e25555" opacity="0.55"/><rect x="619" y="545.50" width="3" height="0.9" fill="#e25555" opacity="0.55"/><rect x="622" y="545.50" width="3" height="0.9" fill="#e25555" opacity="0.55"/><rect x="625" y="545.50" width="3" height="0.9" fill="#f9c6cb" opacity="0.55"/><rect x="627" y="545.50" width="3" height="0.9" fill="#f9c6cb" opacity="0.55"/><rect x="630" y="545.50" width="3" height="0.9" fill="#e25555" opacity="0.55"/><rect x="633" y="545.50" width="3" height="0.9" fill="#e25555" opacity="0.55"/><rect x="636" y="545.50" width="3" height="0.9" fill="#e25555" opacity="0.55"/><rect x="638" y="545.50" width="3" height="0.9" fill="#e25555" opacity="0.55"/><rect x="641" y="545.50" width="3" height="0.9" fill="#f9c6cb" opacity="0.55"/><rect x="644" y="545.50" width="3" height="0.9" fill="#e25555" opacity="0.55"/><rect x="647" y="545.50" width="3" height="0.9" fill="#f9c6cb" opacity="0.55"/><rect x="649" y="545.50" width="3" height="0.9" fill="#f9c6cb" opacity="0.55"/><rect x="652" y="545.50" width="3" height="0.9" fill="#f9c6cb" opacity="0.55"/><rect x="655" y="545.50" width="3" height="0.9" fill="#f9c6cb" opacity="0.55"/><rect x="658" y="545.50" width="3" height="0.9" fill="#f9c6cb" opacity="0.55"/><rect x="663" y="544.60" width="3" height="0.9" fill="#2a9a8c" opacity="0.55"/><rect x="666" y="544.60" width="3" height="0.9" fill="#2a9a8c" opacity="0.55"/><rect x="669" y="544.60" width="3" height="0.9" fill="#a9d9d4" opacity="0.55"/><rect x="672" y="544.60" width="3" height="0.9" fill="#a9d9d4" opacity="0.55"/><rect x="674" y="544.60" width="3" height="0.9" fill="#a9d9d4" opacity="0.55"/><rect x="683" y="544.60" width="3" height="0.9" fill="#2a9a8c" opacity="0.55"/><rect x="686" y="544.60" width="3" height="0.9" fill="#2a9a8c" opacity="0.55"/><rect x="688" y="544.60" width="3" height="0.9" fill="#2a9a8c" opacity="0.55"/><rect x="691" y="544.60" width="3" height="0.9" fill="#2a9a8c" opacity="0.55"/><rect x="694" y="544.60" width="3" height="0.9" fill="#a9d9d4" opacity="0.55"/><rect x="697" y="544.60" width="3" height="0.9" fill="#a9d9d4" opacity="0.55"/><rect x="699" y="544.60" width="3" height="0.9" fill="#a9d9d4" opacity="0.55"/><rect x="702" y="544.60" width="3" height="0.9" fill="#a9d9d4" opacity="0.55"/><rect x="705" y="544.60" width="3" height="0.9" fill="#a9d9d4" opacity="0.55"/><rect x="708" y="544.60" width="3" height="0.9" fill="#a9d9d4" opacity="0.55"/><rect x="711" y="544.60" width="3" height="0.9" fill="#2a9a8c" opacity="0.55"/><rect x="713" y="544.60" width="3" height="0.9" fill="#2a9a8c" opacity="0.55"/><rect x="716" y="544.60" width="3" height="0.9" fill="#2a9a8c" opacity="0.55"/><rect x="719" y="544.60" width="3" height="0.9" fill="#2a9a8c" opacity="0.55"/><rect x="722" y="544.60" width="3" height="0.9" fill="#2a9a8c" opacity="0.55"/><rect x="724" y="544.60" width="3" height="0.9" fill="#2a9a8c" opacity="0.55"/><rect x="727" y="544.60" width="3" height="0.9" fill="#2a9a8c" opacity="0.55"/><rect x="730" y="544.60" width="3" height="0.9" fill="#a9d9d4" opacity="0.55"/><rect x="733" y="544.60" width="3" height="0.9" fill="#a9d9d4" opacity="0.55"/><rect x="735" y="544.60" width="3" height="0.9" fill="#a9d9d4" opacity="0.55"/><rect x="738" y="544.60" width="3" height="0.9" fill="#a9d9d4" opacity="0.55"/><rect x="741" y="544.60" width="3" height="0.9" fill="#a9d9d4" opacity="0.55"/><rect x="744" y="544.60" width="3" height="0.9" fill="#a9d9d4" opacity="0.55"/><rect x="747" y="544.60" width="3" height="0.9" fill="#a9d9d4" opacity="0.55"/><rect x="749" y="544.60" width="3" height="0.9" fill="#a9d9d4" opacity="0.55"/><rect x="760" y="544.60" width="3" height="0.9" fill="#2a9a8c" opacity="0.55"/><rect x="763" y="544.60" width="3" height="0.9" fill="#2a9a8c" opacity="0.55"/><rect x="772" y="545.50" width="3" height="0.9" fill="#e25555" opacity="0.55"/><rect x="774" y="545.50" width="3" height="0.9" fill="#f9c6cb" opacity="0.55"/><rect x="777" y="545.50" width="3" height="0.9" fill="#f9c6cb" opacity="0.55"/><rect x="783" y="545.50" width="3" height="0.9" fill="#e25555" opacity="0.55"/><rect x="785" y="545.50" width="3" height="0.9" fill="#e25555" opacity="0.55"/><rect x="788" y="545.50" width="3" height="0.9" fill="#e25555" opacity="0.55"/><rect x="791" y="545.50" width="3" height="0.9" fill="#e25555" opacity="0.55"/><rect x="794" y="545.50" width="3" height="0.9" fill="#e25555" opacity="0.55"/><rect x="796" y="545.50" width="3" height="0.9" fill="#e25555" opacity="0.55"/><rect x="799" y="545.50" width="3" height="0.9" fill="#f9c6cb" opacity="0.55"/><rect x="802" y="545.50" width="3" height="0.9" fill="#f9c6cb" opacity="0.55"/><rect x="805" y="545.50" width="3" height="0.9" fill="#f9c6cb" opacity="0.55"/><rect x="808" y="545.50" width="3" height="0.9" fill="#f9c6cb" opacity="0.55"/><rect x="810" y="545.50" width="3" height="0.9" fill="#f9c6cb" opacity="0.55"/><rect x="813" y="545.50" width="3" height="0.9" fill="#f9c6cb" opacity="0.55"/><rect x="816" y="545.50" width="3" height="0.9" fill="#f9c6cb" opacity="0.55"/><rect x="819" y="545.50" width="3" height="0.9" fill="#f9c6cb" opacity="0.55"/><rect x="821" y="545.50" width="3" height="0.9" fill="#f9c6cb" opacity="0.55"/><rect x="827" y="544.60" width="3" height="0.9" fill="#2a9a8c" opacity="0.55"/><rect x="830" y="544.60" width="3" height="0.9" fill="#2a9a8c" opacity="0.55"/><rect x="833" y="544.60" width="3" height="0.9" fill="#2a9a8c" opacity="0.55"/><rect x="835" y="544.60" width="3" height="0.9" fill="#2a9a8c" opacity="0.55"/><rect x="838" y="544.60" width="3" height="0.9" fill="#2a9a8c" opacity="0.55"/><rect x="841" y="544.60" width="3" height="0.9" fill="#a9d9d4" opacity="0.55"/><rect x="844" y="544.60" width="3" height="0.9" fill="#a9d9d4" opacity="0.55"/><rect x="846" y="544.60" width="3" height="0.9" fill="#2a9a8c" opacity="0.55"/><rect x="849" y="544.60" width="3" height="0.9" fill="#2a9a8c" opacity="0.55"/><rect x="852" y="544.60" width="3" height="0.9" fill="#a9d9d4" opacity="0.55"/><rect x="855" y="544.60" width="3" height="0.9" fill="#2a9a8c" opacity="0.55"/><rect x="857" y="544.60" width="3" height="0.9" fill="#2a9a8c" opacity="0.55"/><rect x="860" y="544.60" width="3" height="0.9" fill="#a9d9d4" opacity="0.55"/><rect x="863" y="544.60" width="3" height="0.9" fill="#2a9a8c" opacity="0.55"/><rect x="866" y="544.60" width="3" height="0.9" fill="#a9d9d4" opacity="0.55"/><rect x="869" y="544.60" width="3" height="0.9" fill="#a9d9d4" opacity="0.55"/><rect x="871" y="544.60" width="3" height="0.9" fill="#a9d9d4" opacity="0.55"/><rect x="874" y="544.60" width="3" height="0.9" fill="#a9d9d4" opacity="0.55"/><rect x="877" y="544.60" width="3" height="0.9" fill="#a9d9d4" opacity="0.55"/><rect x="880" y="544.60" width="3" height="0.9" fill="#a9d9d4" opacity="0.55"/><rect x="882" y="544.60" width="3" height="0.9" fill="#2a9a8c" opacity="0.55"/><rect x="885" y="544.60" width="3" height="0.9" fill="#a9d9d4" opacity="0.55"/><rect x="888" y="544.60" width="3" height="0.9" fill="#2a9a8c" opacity="0.55"/><rect x="891" y="544.60" width="3" height="0.9" fill="#a9d9d4" opacity="0.55"/><rect x="894" y="544.60" width="3" height="0.9" fill="#2a9a8c" opacity="0.55"/><rect x="896" y="544.60" width="3" height="0.9" fill="#2a9a8c" opacity="0.55"/><rect x="899" y="544.60" width="3" height="0.9" fill="#2a9a8c" opacity="0.55"/><rect x="902" y="544.60" width="3" height="0.9" fill="#a9d9d4" opacity="0.55"/><rect x="905" y="544.60" width="3" height="0.9" fill="#2a9a8c" opacity="0.55"/><rect x="907" y="544.60" width="3" height="0.9" fill="#2a9a8c" opacity="0.55"/><rect x="910" y="544.60" width="3" height="0.9" fill="#a9d9d4" opacity="0.55"/><rect x="913" y="544.60" width="3" height="0.9" fill="#a9d9d4" opacity="0.55"/><rect x="916" y="544.60" width="3" height="0.9" fill="#2a9a8c" opacity="0.55"/><rect x="919" y="544.60" width="3" height="0.9" fill="#2a9a8c" opacity="0.55"/><rect x="921" y="544.60" width="3" height="0.9" fill="#2a9a8c" opacity="0.55"/><rect x="924" y="544.60" width="3" height="0.9" fill="#a9d9d4" opacity="0.55"/><rect x="927" y="544.60" width="3" height="0.9" fill="#a9d9d4" opacity="0.55"/><rect x="930" y="544.60" width="3" height="0.9" fill="#a9d9d4" opacity="0.55"/><rect x="932" y="544.60" width="3" height="0.9" fill="#a9d9d4" opacity="0.55"/><rect x="935" y="544.60" width="3" height="0.9" fill="#a9d9d4" opacity="0.55"/><rect x="938" y="544.60" width="3" height="0.9" fill="#a9d9d4" opacity="0.55"/><rect x="943" y="545.50" width="3" height="0.9" fill="#e25555" opacity="0.55"/><rect x="946" y="545.50" width="3" height="0.9" fill="#e25555" opacity="0.55"/><rect x="949" y="545.50" width="3" height="0.9" fill="#f9c6cb" opacity="0.55"/><rect x="952" y="545.50" width="3" height="0.9" fill="#e25555" opacity="0.55"/><rect x="955" y="545.50" width="3" height="0.9" fill="#e25555" opacity="0.55"/><rect x="957" y="545.50" width="3" height="0.9" fill="#e25555" opacity="0.55"/><rect x="960" y="545.50" width="3" height="0.9" fill="#e25555" opacity="0.55"/><rect x="963" y="545.50" width="3" height="0.9" fill="#e25555" opacity="0.55"/><rect x="966" y="545.50" width="3" height="0.9" fill="#e25555" opacity="0.55"/><rect x="968" y="545.50" width="3" height="0.9" fill="#e25555" opacity="0.55"/><rect x="971" y="545.50" width="3" height="0.9" fill="#f9c6cb" opacity="0.55"/><rect x="974" y="545.50" width="3" height="0.9" fill="#f9c6cb" opacity="0.55"/><rect x="977" y="545.50" width="3" height="0.9" fill="#f9c6cb" opacity="0.55"/><rect x="980" y="545.50" width="3" height="0.9" fill="#f9c6cb" opacity="0.55"/><rect x="982" y="545.50" width="3" height="0.9" fill="#f9c6cb" opacity="0.55"/><rect x="985" y="545.50" width="3" height="0.9" fill="#f9c6cb" opacity="0.55"/><rect x="991" y="545.50" width="3" height="0.9" fill="#e25555" opacity="0.55"/><rect x="993" y="545.50" width="3" height="0.9" fill="#e25555" opacity="0.55"/><rect x="996" y="545.50" width="3" height="0.9" fill="#f9c6cb" opacity="0.55"/>
<polyline points="-2,563.4 1.0,562.9 3.8,562.3 6.6,562.0 9.4,561.7 12.1,561.3 14.9,560.6 17.7,559.3 20.5,558.3 23.2,557.1 26.0,556.3 28.8,556.0 31.6,556.7 34.3,557.8 37.1,559.7 39.9,561.3 42.6,562.6 45.4,563.3 48.2,563.7 51.0,563.3 53.7,562.3 56.5,561.6 59.3,560.7 62.1,559.5 64.8,558.5 67.6,557.9 70.4,557.4 73.2,557.2 75.9,557.2 78.7,557.4 81.5,557.8 84.2,558.6 87.0,559.5 89.8,561.1 92.6,563.0 95.3,565.2 98.1,567.7 100.9,569.9 103.7,571.4 106.4,571.9 109.2,571.9 112.0,572.2 114.8,572.4 117.5,572.6 120.3,572.8 123.1,572.9 125.8,572.8 128.6,572.7 131.4,572.8 134.2,572.6 136.9,572.2 139.7,571.5 142.5,570.8 145.3,569.1 148.0,567.6 150.8,566.7 153.6,566.4 156.3,566.8 159.1,567.2 161.9,567.6 164.7,567.8 167.4,567.9 170.2,568.5 173.0,568.7 175.8,568.4 178.5,567.3 181.3,566.3 184.1,564.9 186.9,562.7 189.6,560.4 192.4,557.7 195.2,554.7 197.9,551.3 200.7,547.9 203.5,545.0 206.3,542.5 209.0,540.4 211.8,539.1 214.6,538.2 217.4,537.7 220.1,537.9 222.9,538.8 225.7,540.2 228.5,541.8 231.2,543.5 234.0,545.3 236.8,547.1 239.5,549.0 242.3,550.8 245.1,552.2 247.9,554.8 250.6,558.1 253.4,561.1 256.2,564.0 259.0,566.8 261.7,569.3 264.5,571.6 267.3,573.5 270.1,575.3 272.8,576.5 275.6,577.4 278.4,577.4 281.1,576.8 283.9,576.3 286.7,576.1 289.5,576.1 292.2,575.9 295.0,575.2 297.8,574.5 300.6,573.2 303.3,571.2 306.1,568.9 308.9,566.4 311.7,564.0 314.4,561.6 317.2,559.1 320.0,557.0 322.7,555.3 325.5,553.7 328.3,552.5 331.1,551.6 333.8,550.8 336.6,550.2 339.4,549.5 342.2,549.1 344.9,548.9 347.7,549.0 350.5,549.9 353.3,551.3 356.0,552.6 358.8,553.8 361.6,553.9 364.3,552.6 367.1,550.0 369.9,546.2 372.7,541.6 375.4,536.7 378.2,531.3 381.0,526.1 383.8,521.5 386.5,517.2 389.3,513.0 392.1,509.2 394.9,505.9 397.6,503.3 400.4,501.5 403.2,500.2 405.9,499.5 408.7,499.3 411.5,499.8 414.3,500.9 417.0,502.4 419.8,503.8 422.6,504.6 425.4,505.5 428.1,506.4 430.9,507.7 433.7,508.7 436.5,510.3 439.2,512.4 442.0,514.6 444.8,516.6 447.5,518.1 450.3,519.2 453.1,519.2 455.9,518.8 458.6,517.8 461.4,516.7 464.2,515.8 467.0,515.2 469.7,514.7 472.5,514.6 475.3,515.0 478.1,515.3 480.8,514.2 483.6,511.5 486.4,508.7 489.1,506.1 491.9,503.8 494.7,502.0 497.5,500.3 500.2,499.5 503.0,500.1 505.8,501.6 508.6,503.8 511.3,506.8 514.1,510.0 516.9,514.6 519.7,520.0 522.4,525.7 525.2,531.7 528.0,537.8 530.7,543.7 533.5,549.2 536.3,553.9 539.1,557.8 541.8,561.1 544.6,564.0 547.4,566.9 550.2,569.6 552.9,571.6 555.7,573.1 558.5,574.3 561.3,575.2 564.0,575.9 566.8,576.1 569.6,575.7 572.3,574.7 575.1,573.4 577.9,572.2 580.7,571.2 583.4,570.5 586.2,569.4 589.0,567.6 591.8,565.6 594.5,564.0 597.3,562.8 600.1,561.9 602.9,561.0 605.6,560.1 608.4,559.6 611.2,559.1 613.9,558.9 616.7,559.2 619.5,559.9 622.3,560.7 625.0,561.4 627.8,562.0 630.6,562.9 633.4,564.1 636.1,565.9 638.9,568.1 641.7,570.2 644.5,572.3 647.2,574.3 650.0,576.0 652.8,577.6 655.5,578.9 658.3,579.8 661.1,580.0 663.9,579.6 666.6,579.0 669.4,578.6 672.2,578.2 675.0,577.9 677.7,577.8 680.5,577.9 683.3,577.6 686.1,576.0 688.8,573.8 691.6,571.1 694.4,568.6 697.1,566.3 699.9,564.3 702.7,562.7 705.5,561.4 708.2,560.2 711.0,558.7 713.8,557.1 716.6,554.7 719.3,551.8 722.1,548.2 724.9,544.0 727.6,539.6 730.4,535.5 733.2,531.8 736.0,528.3 738.7,525.3 741.5,522.9 744.3,520.9 747.1,519.7 749.8,518.7 752.6,518.5 755.4,518.4 758.2,518.2 760.9,517.7 763.7,517.1 766.5,517.0 769.2,517.2 772.0,517.9 774.8,518.5 777.6,518.9 780.3,519.0 783.1,520.5 785.9,522.6 788.7,526.0 791.4,530.6 794.2,536.2 797.0,542.0 799.8,547.4 802.5,552.2 805.3,556.6 808.1,560.5 810.8,563.9 813.6,566.7 816.4,569.0 819.2,570.5 821.9,571.3 824.7,571.3 827.5,570.8 830.3,569.6 833.0,567.9 835.8,565.7 838.6,563.3 841.4,561.1 844.1,559.2 846.9,557.3 849.7,555.2 852.4,553.8 855.2,552.1 858.0,549.4 860.8,546.9 863.5,544.4 866.3,542.0 869.1,539.8 871.9,538.2 874.6,537.0 877.4,536.2 880.2,535.5 883.0,534.8 885.7,534.0 888.5,533.1 891.3,532.3 894.0,531.5 896.8,530.6 899.6,529.5 902.4,528.6 905.1,527.6 907.9,526.4 910.7,525.4 913.5,524.4 916.2,522.6 919.0,520.0 921.8,516.9 924.6,513.9 927.3,511.0 930.1,508.6 932.9,506.8 935.6,505.6 938.4,504.8 941.2,504.6 944.0,504.9 946.7,505.8 949.5,506.5 952.3,508.0 955.1,509.9 957.8,512.3 960.6,514.9 963.4,517.6 966.2,520.7 968.9,524.1 971.7,527.4 974.5,530.7 977.2,533.6 980.0,535.6 982.8,536.7 985.6,537.1 988.3,537.3 991.1,537.7 993.9,538.2 996.7,538.6 999.4,538.8 1001,539.1" fill="none" stroke="#f57014" stroke-width="1" stroke-linejoin="round"/>
<polyline points="-2,558.8 1.0,559.5 3.8,560.3 6.6,560.6 9.4,560.7 12.1,559.4 14.9,558.0 17.7,553.9 20.5,554.3 23.2,552.2 26.0,553.4 28.8,554.8 31.6,559.6 34.3,562.0 37.1,567.3 39.9,567.7 42.6,567.8 45.4,566.4 48.2,565.2 51.0,561.7 53.7,558.4 56.5,558.6 59.3,557.1 62.1,554.8 64.8,554.6 67.6,555.2 70.4,555.5 73.2,556.3 75.9,557.3 78.7,558.0 81.5,559.5 84.2,561.9 87.0,563.1 89.8,567.2 92.6,570.9 95.3,573.9 98.1,577.7 100.9,578.7 103.7,577.4 106.4,573.8 109.2,572.0 112.0,573.3 114.8,573.3 117.5,573.6 120.3,573.4 123.1,573.2 125.8,572.6 128.6,572.1 131.4,573.1 134.2,572.0 136.9,570.3 139.7,569.0 142.5,568.0 145.3,562.2 148.0,561.6 150.8,563.1 153.6,565.2 156.3,568.2 159.1,569.0 161.9,569.2 164.7,568.7 167.4,568.4 170.2,570.6 173.0,569.9 175.8,567.1 178.5,562.8 181.3,562.2 184.1,559.5 186.9,553.9 189.6,550.9 192.4,547.1 195.2,542.9 197.9,537.6 200.7,534.2 203.5,533.2 206.3,532.5 209.0,532.1 211.8,533.8 214.6,534.7 217.4,535.6 220.1,538.9 222.9,542.1 225.7,545.7 228.5,548.1 231.2,550.5 234.0,552.3 236.8,554.7 239.5,556.5 242.3,557.8 245.1,558.0 247.9,565.4 250.6,570.9 253.4,573.1 256.2,575.8 259.0,578.0 261.7,579.4 264.5,580.4 267.3,581.5 270.1,582.1 272.8,581.6 275.6,580.7 278.4,577.5 281.1,574.6 283.9,574.4 286.7,575.4 289.5,576.0 292.2,574.9 295.0,572.7 297.8,571.3 300.6,568.0 303.3,563.4 306.1,559.4 308.9,556.6 311.7,554.4 314.4,551.9 317.2,549.2 320.0,548.5 322.7,548.5 325.5,547.4 328.3,547.9 331.1,547.8 333.8,547.7 336.6,547.6 339.4,547.0 342.2,547.4 344.9,548.1 347.7,549.2 350.5,553.6 353.3,556.7 356.0,558.1 358.8,558.4 361.6,554.5 364.3,547.3 367.1,539.7 369.9,531.1 372.7,523.2 375.4,516.8 378.2,509.9 381.0,505.3 383.8,502.9 386.5,500.0 389.3,496.3 392.1,493.8 394.9,492.6 397.6,493.0 400.4,494.3 403.2,495.2 405.9,496.5 408.7,498.8 411.5,501.9 414.3,505.2 417.0,508.5 419.8,509.2 422.6,507.7 425.4,509.2 428.1,510.1 430.9,512.7 433.7,512.7 436.5,516.7 439.2,521.2 442.0,523.2 444.8,524.5 447.5,524.3 450.3,523.4 453.1,519.5 455.9,517.2 458.6,513.6 461.4,512.5 464.2,512.2 467.0,512.5 469.7,512.9 472.5,514.4 475.3,516.2 478.1,516.7 480.8,509.6 483.6,500.7 486.4,497.6 489.1,495.6 491.9,494.8 494.7,494.8 497.5,493.4 500.2,496.4 503.0,502.5 505.8,507.7 508.6,512.6 511.3,518.6 514.1,523.0 516.9,533.0 519.7,541.7 522.4,548.1 525.2,556.0 528.0,562.0 530.7,567.1 533.5,571.4 536.3,573.0 539.1,573.4 541.8,574.2 544.6,575.4 547.4,578.5 550.2,580.3 552.9,579.9 555.7,579.1 558.5,578.8 561.3,579.1 564.0,578.4 566.8,577.0 569.6,573.9 572.3,571.0 575.1,568.3 577.9,567.3 580.7,567.0 583.4,567.6 586.2,565.3 589.0,560.5 591.8,557.4 594.5,557.7 597.3,558.0 600.1,558.0 602.9,557.7 605.6,556.4 608.4,557.5 611.2,557.2 613.9,557.9 616.7,560.5 619.5,562.9 622.3,563.7 625.0,564.1 627.8,564.4 630.6,566.4 633.4,568.8 636.1,573.2 638.9,576.8 641.7,578.6 644.5,580.9 647.2,582.4 650.0,582.6 652.8,584.1 655.5,584.3 658.3,583.4 661.1,580.6 663.9,577.8 666.6,577.0 669.4,576.7 672.2,576.8 675.0,576.6 677.7,577.3 680.5,578.4 683.3,576.2 686.1,570.0 688.8,565.0 691.6,560.3 694.4,558.6 697.1,557.1 699.9,556.4 702.7,556.1 705.5,556.2 708.2,555.5 711.0,552.8 713.8,550.4 716.6,545.2 719.3,540.2 722.1,533.7 724.9,527.2 727.6,521.9 730.4,519.4 733.2,517.1 736.0,513.9 738.7,513.5 741.5,513.3 744.3,513.1 747.1,514.8 749.8,514.8 752.6,517.5 755.4,518.1 758.2,517.5 760.9,515.5 763.7,514.8 766.5,516.8 769.2,517.6 772.0,520.7 774.8,521.1 777.6,520.2 780.3,519.6 783.1,526.4 785.9,531.0 788.7,539.9 791.4,548.9 794.2,558.7 797.0,564.8 799.8,569.0 802.5,571.3 805.3,574.4 808.1,576.3 810.8,577.2 813.6,577.8 816.4,578.5 819.2,576.3 821.9,574.4 824.7,571.6 827.5,568.7 830.3,564.9 833.0,561.1 835.8,556.8 838.6,554.0 841.4,552.1 844.1,551.6 846.9,549.6 849.7,547.0 852.4,548.3 855.2,545.2 858.0,538.7 860.8,536.9 863.5,534.1 866.3,532.6 869.1,530.9 871.9,531.7 874.6,532.5 877.4,532.9 880.2,532.9 883.0,531.6 885.7,531.2 888.5,529.5 891.3,529.1 894.0,528.2 896.8,527.3 899.6,525.2 902.4,524.9 905.1,523.6 907.9,521.7 910.7,521.3 913.5,520.5 916.2,515.5 919.0,509.3 921.8,504.8 924.6,502.0 927.3,499.4 930.1,498.9 932.9,499.3 935.6,500.8 938.4,501.8 941.2,503.6 944.0,506.4 946.7,509.1 949.5,509.4 952.3,513.8 955.1,517.9 957.8,521.5 960.6,525.7 963.4,528.4 966.2,532.9 968.9,537.7 971.7,540.9 974.5,543.5 977.2,545.4 980.0,543.6 982.8,541.1 985.6,538.9 988.3,537.8 991.1,539.2 993.9,540.1 996.7,540.3 999.4,539.9 1001,539.5" fill="none" stroke="#2a5ff0" stroke-width="1" stroke-linejoin="round"/>
<path d="M1.50 110.0V121.5M3.50 121.0V134.0M6.50 126.7V136.7M9.50 128.5V133.5M12.50 120.0V133.0M14.50 117.0V122.5M17.50 76.0V120.5M20.50 95.5V140.0M23.50 93.0V138.0M26.50 103.0V136.7M28.50 130.0V137.5M31.50 136.7V175.0M34.50 157.5V175.0M37.50 158.0V193.0M39.50 161.0V191.7M42.50 150.0V170.0M45.50 149.0V163.0M48.50 145.0V161.0M50.50 131.7V155.0M53.50 120.0V134.0M56.50 130.0V157.5M59.50 136.7V155.0M62.50 127.0V149.0M64.50 127.5V148.0M67.50 143.0V158.0M70.50 155.0V164.0M73.50 154.0V162.5M75.50 161.0V167.0M78.50 161.0V186.7M81.50 164.0V176.0M84.50 172.5V190.0M87.50 172.5V196.0M89.50 181.7V213.0M92.50 203.0V223.0M95.50 212.5V228.0M98.50 221.7V240.0M100.50 218.0V246.7M103.50 204.0V227.5M106.50 185.0V214.0M109.50 186.0V202.0M111.50 202.0V246.0M114.50 213.0V237.5M117.50 212.5V233.0M120.50 210.0V234.0M123.50 211.0V237.5M125.50 219.0V233.0M128.50 221.0V231.7M131.50 231.0V261.0M134.50 229.0V246.7M136.50 226.0V238.0M139.50 221.7V230.0M142.50 228.0V239.0M145.50 167.0V232.0M148.50 188.0V229.0M150.50 224.0V261.7M153.50 231.7V266.7M156.50 246.7V272.5M159.50 255.8V270.0M161.50 252.5V262.0M164.50 248.0V265.0M167.50 252.5V276.0M170.50 253.0V284.0M172.50 253.0V301.7M175.50 238.0V262.5M178.50 227.5V250.0M181.50 220.0V256.7M184.50 226.7V261.7M186.50 210.0V248.0M189.50 204.0V227.5M192.50 196.7V221.7M195.50 192.5V212.5M197.50 174.0V200.0M200.50 178.0V193.0M203.50 189.0V206.7M206.50 199.0V208.0M209.50 196.7V204.7M211.50 196.0V217.5M214.50 208.0V221.0M217.50 200.0V218.0M220.50 203.7V235.8M222.50 230.0V240.0M225.50 239.0V249.0M228.50 243.0V255.0M231.50 235.8V250.8M234.50 238.0V251.7M236.50 245.8V265.8M239.50 250.0V261.0M242.50 257.5V272.5M245.50 251.7V261.7M247.50 249.0V326.0M250.50 300.0V331.0M253.50 294.0V323.0M256.50 296.0V325.0M258.50 298.0V322.5M261.50 303.0V317.5M264.50 307.5V325.0M267.50 318.0V334.0M270.50 321.7V329.0M272.50 322.5V326.7M275.50 321.7V333.0M278.50 278.0V323.0M281.50 290.0V305.0M283.50 296.0V325.0M286.50 311.7V343.0M289.50 336.0V350.0M292.50 320.8V341.0M295.50 313.0V329.0M297.50 305.8V328.0M300.50 301.7V326.0M303.50 292.5V310.0M306.50 291.0V305.0M308.50 285.8V297.5M311.50 289.0V298.5M314.50 288.0V300.0M317.50 282.0V295.0M319.50 286.0V299.0M322.50 298.0V306.0M325.50 295.0V304.0M328.50 295.8V308.0M331.50 302.5V308.0M333.50 303.0V305.0M336.50 303.0V306.7M339.50 298.7V305.0M342.50 290.0V308.0M344.50 304.0V316.0M347.50 306.0V316.7M350.50 315.0V347.5M353.50 337.5V360.0M356.50 335.0V356.0M358.50 331.0V338.0M361.50 297.5V336.7M364.50 248.0V297.5M367.50 244.0V286.7M369.50 213.0V256.7M372.50 211.0V232.5M375.50 198.0V217.5M378.50 186.7V208.0M380.50 189.0V199.0M383.50 186.7V199.0M386.50 186.7V211.7M389.50 163.0V186.7M392.50 167.5V181.7M394.50 165.0V176.7M397.50 169.0V176.0M400.50 173.0V180.0M403.50 173.0V180.0M405.50 166.7V175.0M408.50 171.7V181.0M411.50 176.7V187.0M414.50 175.0V191.0M417.50 190.0V213.0M419.50 137.5V192.5M422.50 148.0V183.0M425.50 137.5V175.0M428.50 159.0V177.5M430.50 137.5V179.0M433.50 157.5V182.5M436.50 156.7V194.0M439.50 183.0V201.7M441.50 183.0V200.0M444.50 176.0V193.0M447.50 165.0V184.0M450.50 157.0V175.0M453.50 120.0V158.0M455.50 125.0V157.5M458.50 112.5V131.7M461.50 113.7V126.0M464.50 123.0V131.7M466.50 117.5V137.5M469.50 124.0V133.5M472.50 126.0V135.0M475.50 134.7V140.8M478.50 123.0V137.5M480.50 33.0V126.7M483.50 27.0V67.5M486.50 12.0V56.0M489.50 43.0V67.5M491.50 50.0V57.5M494.50 48.0V62.5M497.50 28.0V59.0M500.50 34.7V78.0M503.50 68.0V100.8M505.50 87.5V105.8M508.50 94.0V115.8M511.50 98.7V123.0M514.50 107.5V127.5M516.50 111.0V166.0M519.50 155.8V178.0M522.50 162.0V188.0M525.50 166.0V196.7M527.50 187.5V195.8M530.50 180.0V202.5M533.50 197.0V204.7M536.50 189.0V202.0M539.50 180.8V191.0M541.50 185.8V193.0M544.50 188.0V211.7M547.50 194.0V222.5M550.50 198.0V247.5M552.50 205.0V222.0M555.50 202.5V210.0M558.50 201.7V215.0M561.50 212.0V226.7M564.50 204.0V224.0M566.50 190.0V218.0M569.50 188.0V214.0M572.50 190.8V208.0M575.50 182.5V198.3M577.50 195.0V218.0M580.50 198.0V216.7M583.50 212.5V245.8M586.50 190.0V224.0M588.50 164.0V216.7M591.50 173.0V194.0M594.50 184.7V210.8M597.50 205.0V218.0M600.50 205.8V214.7M602.50 200.8V211.7M605.50 194.0V211.7M608.50 210.0V221.7M611.50 201.7V222.0M613.50 212.5V223.7M616.50 222.0V241.7M619.50 235.0V257.5M622.50 234.7V249.0M625.50 230.8V240.0M627.50 234.0V241.7M630.50 239.0V258.0M633.50 253.0V273.0M636.50 260.8V300.0M638.50 289.0V301.7M641.50 288.0V303.0M644.50 287.0V305.8M647.50 296.7V316.7M649.50 294.0V310.8M652.50 279.0V311.7M655.50 306.7V323.0M658.50 298.0V315.8M661.50 285.0V303.0M663.50 285.0V289.0M666.50 286.7V301.7M669.50 297.0V312.5M672.50 306.0V315.0M674.50 312.0V315.5M677.50 310.0V325.0M680.50 319.0V337.5M683.50 303.0V334.0M686.50 266.7V310.8M688.50 264.0V283.0M691.50 262.5V282.5M694.50 266.0V292.5M697.50 274.0V296.0M699.50 277.5V295.0M702.50 286.7V317.5M705.50 293.0V312.5M708.50 291.7V304.0M711.50 278.0V298.0M713.50 271.7V280.0M716.50 247.5V280.0M719.50 232.5V256.7M722.50 205.8V242.5M724.50 201.7V225.0M727.50 191.7V206.7M730.50 199.0V215.0M733.50 205.8V215.0M735.50 191.7V210.0M738.50 195.0V210.0M741.50 200.0V234.0M744.50 196.7V208.0M747.50 197.5V219.0M749.50 199.0V220.8M752.50 175.8V228.0M755.50 203.0V225.8M758.50 192.5V215.0M760.50 178.0V203.0M763.50 167.5V189.0M766.50 175.0V210.8M769.50 193.0V217.5M772.50 185.8V214.0M774.50 192.0V212.5M777.50 175.0V197.5M780.50 175.0V188.0M783.50 179.0V242.5M785.50 215.0V241.7M788.50 230.8V284.0M791.50 265.0V292.5M794.50 291.0V317.5M796.50 304.0V315.8M799.50 299.0V308.0M802.50 290.8V301.7M805.50 293.7V310.8M808.50 302.5V311.7M810.50 299.0V310.0M813.50 299.0V325.0M816.50 298.0V315.8M819.50 287.5V320.8M821.50 287.5V301.7M824.50 283.0V314.0M827.50 279.0V293.0M830.50 270.0V283.0M833.50 265.0V282.5M835.50 252.5V278.0M838.50 250.8V262.5M841.50 260.0V267.0M844.50 266.0V281.7M846.50 258.0V279.0M849.50 227.5V303.0M852.50 240.4V293.0M855.50 239.5V283.0M857.50 203.0V247.5M860.50 203.0V241.0M863.50 213.0V241.0M866.50 221.0V236.0M869.50 221.7V243.0M871.50 220.0V244.0M874.50 231.7V251.7M877.50 240.0V246.7M880.50 235.0V246.7M882.50 222.5V238.0M885.50 219.0V232.5M888.50 209.0V230.0M891.50 213.7V225.0M894.50 211.0V224.0M896.50 203.0V217.0M899.50 190.0V215.8M902.50 190.5V217.5M905.50 195.0V210.0M907.50 185.0V198.0M910.50 187.0V198.0M913.50 185.8V196.7M916.50 139.0V195.0M919.50 120.0V155.0M921.50 115.8V149.0M924.50 110.8V136.7M927.50 119.0V132.5M930.50 120.0V131.7M932.50 127.0V133.3M935.50 130.0V137.0M938.50 126.7V137.0M941.50 131.0V139.0M943.50 134.0V146.7M946.50 139.0V150.8M949.50 121.7V152.5M952.50 124.0V158.0M955.50 157.0V171.7M957.50 158.0V171.7M960.50 159.0V171.7M963.50 160.0V171.0M966.50 161.7V183.0M968.50 175.0V192.5M971.50 187.0V197.5M974.50 187.0V203.0M977.50 185.0V197.5M980.50 156.7V187.5M982.50 143.0V165.0M985.50 137.5V151.0M988.50 139.0V152.0M991.50 150.0V171.7M993.50 163.0V170.5M996.50 161.5V168.0M999.50 156.7V163.0" stroke="#000" stroke-width="1" fill="none"/>
<rect x="0.04" y="114.8" width="2.00" height="6.4" fill="#a82132" stroke="#6e1722" stroke-width="0.7"/><rect x="2.82" y="121.3" width="2.00" height="10.9" fill="#a82132" stroke="#6e1722" stroke-width="0.7"/><rect x="5.59" y="130.3" width="2.00" height="0.9" fill="#a82132" stroke="#6e1722" stroke-width="0.7"/><rect x="8.36" y="131.3" width="2.00" height="0.9" fill="#a82132" stroke="#6e1722" stroke-width="0.7"/><rect x="11.14" y="122.3" width="2.00" height="9.9" fill="#22a085" stroke="#155a4c" stroke-width="0.7"/><rect x="13.91" y="119.8" width="2.00" height="2.4" fill="#22a085" stroke="#155a4c" stroke-width="0.7"/><rect x="16.68" y="95.8" width="2.00" height="24.4" fill="#22a085" stroke="#155a4c" stroke-width="0.7"/><rect x="19.46" y="95.8" width="2.00" height="31.4" fill="#a82132" stroke="#6e1722" stroke-width="0.7"/><rect x="22.23" y="108.3" width="2.00" height="18.9" fill="#22a085" stroke="#155a4c" stroke-width="0.7"/><rect x="25.00" y="108.3" width="2.00" height="24.4" fill="#a82132" stroke="#6e1722" stroke-width="0.7"/><rect x="27.78" y="133.3" width="2.00" height="3.9" fill="#a82132" stroke="#6e1722" stroke-width="0.7"/><rect x="30.55" y="137.0" width="2.00" height="33.5" fill="#a82132" stroke="#6e1722" stroke-width="0.7"/><rect x="33.32" y="160.3" width="2.00" height="10.2" fill="#22a085" stroke="#155a4c" stroke-width="0.7"/><rect x="36.10" y="160.3" width="2.00" height="31.1" fill="#a82132" stroke="#6e1722" stroke-width="0.7"/><rect x="38.87" y="162.0" width="2.00" height="29.4" fill="#22a085" stroke="#155a4c" stroke-width="0.7"/><rect x="41.64" y="160.8" width="2.00" height="0.4" fill="#a82132" stroke="#6e1722" stroke-width="0.7"/><rect x="44.42" y="152.0" width="2.00" height="9.4" fill="#22a085" stroke="#155a4c" stroke-width="0.7"/><rect x="47.19" y="151.3" width="2.00" height="0.9" fill="#a82132" stroke="#6e1722" stroke-width="0.7"/><rect x="49.96" y="133.3" width="2.00" height="18.9" fill="#22a085" stroke="#155a4c" stroke-width="0.7"/><rect x="52.74" y="130.3" width="2.00" height="3.4" fill="#22a085" stroke="#155a4c" stroke-width="0.7"/><rect x="55.51" y="130.3" width="2.00" height="24.4" fill="#a82132" stroke="#6e1722" stroke-width="0.7"/><rect x="58.28" y="142.0" width="2.00" height="12.4" fill="#22a085" stroke="#155a4c" stroke-width="0.7"/><rect x="61.06" y="134.3" width="2.00" height="7.1" fill="#22a085" stroke="#155a4c" stroke-width="0.7"/><rect x="63.83" y="134.3" width="2.00" height="13.4" fill="#a82132" stroke="#6e1722" stroke-width="0.7"/><rect x="66.60" y="148.3" width="2.00" height="7.4" fill="#a82132" stroke="#6e1722" stroke-width="0.7"/><rect x="69.38" y="155.3" width="2.00" height="0.4" fill="#a82132" stroke="#6e1722" stroke-width="0.7"/><rect x="72.15" y="155.3" width="2.00" height="5.4" fill="#a82132" stroke="#6e1722" stroke-width="0.7"/><rect x="74.92" y="161.3" width="2.00" height="4.4" fill="#a82132" stroke="#6e1722" stroke-width="0.7"/><rect x="77.70" y="163.3" width="2.00" height="3.1" fill="#a82132" stroke="#6e1722" stroke-width="0.7"/><rect x="80.47" y="166.3" width="2.00" height="9.4" fill="#a82132" stroke="#6e1722" stroke-width="0.7"/><rect x="83.24" y="175.3" width="2.00" height="11.9" fill="#a82132" stroke="#6e1722" stroke-width="0.7"/><rect x="86.02" y="184.3" width="2.00" height="2.9" fill="#22a085" stroke="#155a4c" stroke-width="0.7"/><rect x="88.79" y="184.3" width="2.00" height="28.4" fill="#a82132" stroke="#6e1722" stroke-width="0.7"/><rect x="91.56" y="213.3" width="2.00" height="5.4" fill="#a82132" stroke="#6e1722" stroke-width="0.7"/><rect x="94.34" y="218.3" width="2.00" height="4.4" fill="#a82132" stroke="#6e1722" stroke-width="0.7"/><rect x="97.11" y="223.3" width="2.00" height="13.9" fill="#a82132" stroke="#6e1722" stroke-width="0.7"/><rect x="99.88" y="225.3" width="2.00" height="11.9" fill="#22a085" stroke="#155a4c" stroke-width="0.7"/><rect x="102.66" y="209.3" width="2.00" height="15.4" fill="#22a085" stroke="#155a4c" stroke-width="0.7"/><rect x="105.43" y="191.3" width="2.00" height="17.4" fill="#22a085" stroke="#155a4c" stroke-width="0.7"/><rect x="108.20" y="191.3" width="2.00" height="10.4" fill="#a82132" stroke="#6e1722" stroke-width="0.7"/><rect x="110.98" y="202.3" width="2.00" height="26.4" fill="#a82132" stroke="#6e1722" stroke-width="0.7"/><rect x="113.75" y="222.8" width="2.00" height="5.9" fill="#22a085" stroke="#155a4c" stroke-width="0.7"/><rect x="116.52" y="222.8" width="2.00" height="4.4" fill="#a82132" stroke="#6e1722" stroke-width="0.7"/><rect x="119.30" y="225.3" width="2.00" height="1.9" fill="#a82132" stroke="#6e1722" stroke-width="0.7"/><rect x="122.07" y="225.3" width="2.00" height="3.4" fill="#a82132" stroke="#6e1722" stroke-width="0.7"/><rect x="124.84" y="227.8" width="2.00" height="0.9" fill="#a82132" stroke="#6e1722" stroke-width="0.7"/><rect x="127.62" y="227.8" width="2.00" height="2.9" fill="#a82132" stroke="#6e1722" stroke-width="0.7"/><rect x="130.39" y="231.3" width="2.00" height="13.4" fill="#a82132" stroke="#6e1722" stroke-width="0.7"/><rect x="133.16" y="232.8" width="2.00" height="11.9" fill="#22a085" stroke="#155a4c" stroke-width="0.7"/><rect x="135.94" y="228.3" width="2.00" height="3.9" fill="#22a085" stroke="#155a4c" stroke-width="0.7"/><rect x="138.71" y="227.8" width="2.00" height="1.9" fill="#a82132" stroke="#6e1722" stroke-width="0.7"/><rect x="141.48" y="230.3" width="2.00" height="2.4" fill="#a82132" stroke="#6e1722" stroke-width="0.7"/><rect x="144.26" y="192.8" width="2.00" height="38.9" fill="#22a085" stroke="#155a4c" stroke-width="0.7"/><rect x="147.03" y="192.8" width="2.00" height="34.4" fill="#a82132" stroke="#6e1722" stroke-width="0.7"/><rect x="149.80" y="227.3" width="2.00" height="19.1" fill="#a82132" stroke="#6e1722" stroke-width="0.7"/><rect x="152.58" y="247.0" width="2.00" height="9.4" fill="#a82132" stroke="#6e1722" stroke-width="0.7"/><rect x="155.35" y="257.0" width="2.00" height="12.7" fill="#a82132" stroke="#6e1722" stroke-width="0.7"/><rect x="158.12" y="259.0" width="2.00" height="10.7" fill="#22a085" stroke="#155a4c" stroke-width="0.7"/><rect x="160.90" y="258.3" width="2.00" height="2.4" fill="#22a085" stroke="#155a4c" stroke-width="0.7"/><rect x="163.67" y="254.3" width="2.00" height="6.4" fill="#22a085" stroke="#155a4c" stroke-width="0.7"/><rect x="166.44" y="254.3" width="2.00" height="2.9" fill="#a82132" stroke="#6e1722" stroke-width="0.7"/><rect x="169.22" y="257.0" width="2.00" height="23.7" fill="#a82132" stroke="#6e1722" stroke-width="0.7"/><rect x="171.99" y="262.8" width="2.00" height="17.9" fill="#22a085" stroke="#155a4c" stroke-width="0.7"/><rect x="174.76" y="246.3" width="2.00" height="15.9" fill="#22a085" stroke="#155a4c" stroke-width="0.7"/><rect x="177.54" y="230.3" width="2.00" height="15.4" fill="#22a085" stroke="#155a4c" stroke-width="0.7"/><rect x="180.31" y="230.3" width="2.00" height="24.4" fill="#a82132" stroke="#6e1722" stroke-width="0.7"/><rect x="183.08" y="238.3" width="2.00" height="16.4" fill="#22a085" stroke="#155a4c" stroke-width="0.7"/><rect x="185.86" y="210.3" width="2.00" height="27.4" fill="#22a085" stroke="#155a4c" stroke-width="0.7"/><rect x="188.63" y="211.3" width="2.00" height="10.9" fill="#a82132" stroke="#6e1722" stroke-width="0.7"/><rect x="191.40" y="210.3" width="2.00" height="11.1" fill="#22a085" stroke="#155a4c" stroke-width="0.7"/><rect x="194.18" y="200.3" width="2.00" height="10.4" fill="#22a085" stroke="#155a4c" stroke-width="0.7"/><rect x="196.95" y="183.3" width="2.00" height="16.4" fill="#22a085" stroke="#155a4c" stroke-width="0.7"/><rect x="199.72" y="183.3" width="2.00" height="5.4" fill="#a82132" stroke="#6e1722" stroke-width="0.7"/><rect x="202.50" y="189.3" width="2.00" height="12.1" fill="#a82132" stroke="#6e1722" stroke-width="0.7"/><rect x="205.27" y="200.8" width="2.00" height="0.4" fill="#a82132" stroke="#6e1722" stroke-width="0.7"/><rect x="208.04" y="200.8" width="2.00" height="0.4" fill="#a82132" stroke="#6e1722" stroke-width="0.7"/><rect x="210.82" y="201.3" width="2.00" height="15.9" fill="#a82132" stroke="#6e1722" stroke-width="0.7"/><rect x="213.59" y="213.3" width="2.00" height="3.9" fill="#22a085" stroke="#155a4c" stroke-width="0.7"/><rect x="216.36" y="213.3" width="2.00" height="0.4" fill="#a82132" stroke="#6e1722" stroke-width="0.7"/><rect x="219.14" y="213.3" width="2.00" height="21.4" fill="#a82132" stroke="#6e1722" stroke-width="0.7"/><rect x="221.91" y="235.3" width="2.00" height="4.4" fill="#a82132" stroke="#6e1722" stroke-width="0.7"/><rect x="224.68" y="239.3" width="2.00" height="9.4" fill="#a82132" stroke="#6e1722" stroke-width="0.7"/><rect x="227.46" y="246.1" width="2.00" height="1.6" fill="#22a085" stroke="#155a4c" stroke-width="0.7"/><rect x="230.23" y="246.1" width="2.00" height="3.6" fill="#a82132" stroke="#6e1722" stroke-width="0.7"/><rect x="233.00" y="249.3" width="2.00" height="0.4" fill="#a82132" stroke="#6e1722" stroke-width="0.7"/><rect x="235.78" y="249.3" width="2.00" height="10.4" fill="#a82132" stroke="#6e1722" stroke-width="0.7"/><rect x="238.55" y="259.3" width="2.00" height="0.4" fill="#a82132" stroke="#6e1722" stroke-width="0.7"/><rect x="241.32" y="259.3" width="2.00" height="0.4" fill="#a82132" stroke="#6e1722" stroke-width="0.7"/><rect x="244.10" y="254.3" width="2.00" height="4.4" fill="#22a085" stroke="#155a4c" stroke-width="0.7"/><rect x="246.87" y="254.3" width="2.00" height="63.4" fill="#a82132" stroke="#6e1722" stroke-width="0.7"/><rect x="249.64" y="317.0" width="2.00" height="0.7" fill="#a82132" stroke="#6e1722" stroke-width="0.7"/><rect x="252.42" y="302.0" width="2.00" height="15.7" fill="#22a085" stroke="#155a4c" stroke-width="0.7"/><rect x="255.19" y="301.1" width="2.00" height="11.6" fill="#a82132" stroke="#6e1722" stroke-width="0.7"/><rect x="257.96" y="313.3" width="2.00" height="3.9" fill="#a82132" stroke="#6e1722" stroke-width="0.7"/><rect x="260.74" y="315.3" width="2.00" height="1.9" fill="#a82132" stroke="#6e1722" stroke-width="0.7"/><rect x="263.51" y="315.3" width="2.00" height="4.4" fill="#a82132" stroke="#6e1722" stroke-width="0.7"/><rect x="266.28" y="318.3" width="2.00" height="7.4" fill="#a82132" stroke="#6e1722" stroke-width="0.7"/><rect x="269.06" y="324.3" width="2.00" height="3.4" fill="#a82132" stroke="#6e1722" stroke-width="0.7"/><rect x="271.83" y="322.8" width="2.00" height="3.6" fill="#22a085" stroke="#155a4c" stroke-width="0.7"/><rect x="274.60" y="322.8" width="2.00" height="9.4" fill="#22a085" stroke="#155a4c" stroke-width="0.7"/><rect x="277.38" y="304.3" width="2.00" height="17.9" fill="#22a085" stroke="#155a4c" stroke-width="0.7"/><rect x="280.15" y="303.8" width="2.00" height="0.4" fill="#a82132" stroke="#6e1722" stroke-width="0.7"/><rect x="282.92" y="304.3" width="2.00" height="20.4" fill="#a82132" stroke="#6e1722" stroke-width="0.7"/><rect x="285.69" y="324.3" width="2.00" height="13.4" fill="#a82132" stroke="#6e1722" stroke-width="0.7"/><rect x="288.47" y="337.8" width="2.00" height="0.9" fill="#a82132" stroke="#6e1722" stroke-width="0.7"/><rect x="291.24" y="329.3" width="2.00" height="10.4" fill="#22a085" stroke="#155a4c" stroke-width="0.7"/><rect x="294.01" y="321.1" width="2.00" height="7.6" fill="#22a085" stroke="#155a4c" stroke-width="0.7"/><rect x="296.79" y="321.1" width="2.00" height="4.6" fill="#5a3a3a" stroke="#222" stroke-width="0.7"/><rect x="299.56" y="309.3" width="2.00" height="16.4" fill="#22a085" stroke="#155a4c" stroke-width="0.7"/><rect x="302.33" y="295.3" width="2.00" height="14.4" fill="#22a085" stroke="#155a4c" stroke-width="0.7"/><rect x="305.11" y="293.3" width="2.00" height="2.4" fill="#22a085" stroke="#155a4c" stroke-width="0.7"/><rect x="307.88" y="293.3" width="2.00" height="3.9" fill="#a82132" stroke="#6e1722" stroke-width="0.7"/><rect x="310.65" y="297.3" width="2.00" height="0.4" fill="#a82132" stroke="#6e1722" stroke-width="0.7"/><rect x="313.43" y="293.3" width="2.00" height="5.4" fill="#22a085" stroke="#155a4c" stroke-width="0.7"/><rect x="316.20" y="287.8" width="2.00" height="4.9" fill="#22a085" stroke="#155a4c" stroke-width="0.7"/><rect x="318.97" y="287.8" width="2.00" height="10.9" fill="#a82132" stroke="#6e1722" stroke-width="0.7"/><rect x="321.75" y="299.0" width="2.00" height="5.7" fill="#a82132" stroke="#6e1722" stroke-width="0.7"/><rect x="324.52" y="296.1" width="2.00" height="7.6" fill="#22a085" stroke="#155a4c" stroke-width="0.7"/><rect x="327.29" y="296.1" width="2.00" height="11.6" fill="#a82132" stroke="#6e1722" stroke-width="0.7"/><rect x="330.07" y="304.3" width="2.00" height="3.4" fill="#22a085" stroke="#155a4c" stroke-width="0.7"/><rect x="332.84" y="304.3" width="2.00" height="0.4" fill="#22a085" stroke="#155a4c" stroke-width="0.7"/><rect x="335.61" y="304.3" width="2.00" height="0.7" fill="#22a085" stroke="#155a4c" stroke-width="0.7"/><rect x="338.39" y="300.3" width="2.00" height="4.4" fill="#22a085" stroke="#155a4c" stroke-width="0.7"/><rect x="341.16" y="300.3" width="2.00" height="7.4" fill="#a82132" stroke="#6e1722" stroke-width="0.7"/><rect x="343.93" y="307.8" width="2.00" height="2.9" fill="#a82132" stroke="#6e1722" stroke-width="0.7"/><rect x="346.71" y="310.3" width="2.00" height="6.1" fill="#a82132" stroke="#6e1722" stroke-width="0.7"/><rect x="349.48" y="316.1" width="2.00" height="31.1" fill="#a82132" stroke="#6e1722" stroke-width="0.7"/><rect x="352.25" y="345.3" width="2.00" height="1.1" fill="#22a085" stroke="#155a4c" stroke-width="0.7"/><rect x="355.03" y="337.8" width="2.00" height="7.9" fill="#22a085" stroke="#155a4c" stroke-width="0.7"/><rect x="357.80" y="332.8" width="2.00" height="4.9" fill="#22a085" stroke="#155a4c" stroke-width="0.7"/><rect x="360.57" y="297.8" width="2.00" height="34.9" fill="#22a085" stroke="#155a4c" stroke-width="0.7"/><rect x="363.35" y="263.3" width="2.00" height="33.9" fill="#22a085" stroke="#155a4c" stroke-width="0.7"/><rect x="366.12" y="247.0" width="2.00" height="15.7" fill="#22a085" stroke="#155a4c" stroke-width="0.7"/><rect x="368.89" y="223.3" width="2.00" height="23.1" fill="#22a085" stroke="#155a4c" stroke-width="0.7"/><rect x="371.67" y="212.3" width="2.00" height="11.4" fill="#22a085" stroke="#155a4c" stroke-width="0.7"/><rect x="374.44" y="208.3" width="2.00" height="3.9" fill="#22a085" stroke="#155a4c" stroke-width="0.7"/><rect x="377.21" y="189.3" width="2.00" height="18.4" fill="#22a085" stroke="#155a4c" stroke-width="0.7"/><rect x="379.99" y="189.3" width="2.00" height="3.4" fill="#a82132" stroke="#6e1722" stroke-width="0.7"/><rect x="382.76" y="193.3" width="2.00" height="5.4" fill="#a82132" stroke="#6e1722" stroke-width="0.7"/><rect x="385.53" y="187.0" width="2.00" height="11.7" fill="#22a085" stroke="#155a4c" stroke-width="0.7"/><rect x="388.31" y="169.3" width="2.00" height="17.1" fill="#22a085" stroke="#155a4c" stroke-width="0.7"/><rect x="391.08" y="169.3" width="2.00" height="0.4" fill="#22a085" stroke="#155a4c" stroke-width="0.7"/><rect x="393.85" y="169.3" width="2.00" height="0.4" fill="#a82132" stroke="#6e1722" stroke-width="0.7"/><rect x="396.63" y="170.3" width="2.00" height="5.2" fill="#a82132" stroke="#6e1722" stroke-width="0.7"/><rect x="399.40" y="175.3" width="2.00" height="4.4" fill="#a82132" stroke="#6e1722" stroke-width="0.7"/><rect x="402.17" y="174.3" width="2.00" height="5.4" fill="#22a085" stroke="#155a4c" stroke-width="0.7"/><rect x="404.95" y="174.0" width="2.00" height="0.7" fill="#22a085" stroke="#155a4c" stroke-width="0.7"/><rect x="407.72" y="174.3" width="2.00" height="6.2" fill="#a82132" stroke="#6e1722" stroke-width="0.7"/><rect x="410.49" y="180.3" width="2.00" height="6.1" fill="#a82132" stroke="#6e1722" stroke-width="0.7"/><rect x="413.27" y="186.1" width="2.00" height="4.4" fill="#a82132" stroke="#6e1722" stroke-width="0.7"/><rect x="416.04" y="190.3" width="2.00" height="1.9" fill="#a82132" stroke="#6e1722" stroke-width="0.7"/><rect x="418.81" y="173.3" width="2.00" height="18.9" fill="#22a085" stroke="#155a4c" stroke-width="0.7"/><rect x="421.59" y="152.0" width="2.00" height="21.7" fill="#22a085" stroke="#155a4c" stroke-width="0.7"/><rect x="424.36" y="152.0" width="2.00" height="19.4" fill="#a82132" stroke="#6e1722" stroke-width="0.7"/><rect x="427.13" y="166.1" width="2.00" height="5.3" fill="#22a085" stroke="#155a4c" stroke-width="0.7"/><rect x="429.91" y="166.1" width="2.00" height="11.6" fill="#a82132" stroke="#6e1722" stroke-width="0.7"/><rect x="432.68" y="157.8" width="2.00" height="19.9" fill="#22a085" stroke="#155a4c" stroke-width="0.7"/><rect x="435.45" y="157.0" width="2.00" height="31.7" fill="#a82132" stroke="#6e1722" stroke-width="0.7"/><rect x="438.23" y="189.3" width="2.00" height="8.4" fill="#a82132" stroke="#6e1722" stroke-width="0.7"/><rect x="441.00" y="183.3" width="2.00" height="14.4" fill="#22a085" stroke="#155a4c" stroke-width="0.7"/><rect x="443.77" y="178.3" width="2.00" height="4.4" fill="#22a085" stroke="#155a4c" stroke-width="0.7"/><rect x="446.55" y="166.1" width="2.00" height="11.6" fill="#22a085" stroke="#155a4c" stroke-width="0.7"/><rect x="449.32" y="158.3" width="2.00" height="8.1" fill="#22a085" stroke="#155a4c" stroke-width="0.7"/><rect x="452.09" y="127.8" width="2.00" height="29.9" fill="#22a085" stroke="#155a4c" stroke-width="0.7"/><rect x="454.87" y="127.8" width="2.00" height="3.6" fill="#5a3a3a" stroke="#222" stroke-width="0.7"/><rect x="457.64" y="114.0" width="2.00" height="17.4" fill="#22a085" stroke="#155a4c" stroke-width="0.7"/><rect x="460.41" y="114.3" width="2.00" height="11.2" fill="#a82132" stroke="#6e1722" stroke-width="0.7"/><rect x="463.19" y="125.3" width="2.00" height="1.9" fill="#a82132" stroke="#6e1722" stroke-width="0.7"/><rect x="465.96" y="127.8" width="2.00" height="0.4" fill="#a82132" stroke="#6e1722" stroke-width="0.7"/><rect x="468.73" y="127.0" width="2.00" height="5.2" fill="#22a085" stroke="#155a4c" stroke-width="0.7"/><rect x="471.51" y="126.3" width="2.00" height="8.1" fill="#a82132" stroke="#6e1722" stroke-width="0.7"/><rect x="474.28" y="135.8" width="2.00" height="0.4" fill="#a82132" stroke="#6e1722" stroke-width="0.7"/><rect x="477.05" y="126.3" width="2.00" height="10.9" fill="#22a085" stroke="#155a4c" stroke-width="0.7"/><rect x="479.83" y="58.3" width="2.00" height="68.1" fill="#22a085" stroke="#155a4c" stroke-width="0.7"/><rect x="482.60" y="27.3" width="2.00" height="30.4" fill="#22a085" stroke="#155a4c" stroke-width="0.7"/><rect x="485.37" y="27.3" width="2.00" height="27.4" fill="#a82132" stroke="#6e1722" stroke-width="0.7"/><rect x="488.15" y="53.8" width="2.00" height="0.6" fill="#a82132" stroke="#6e1722" stroke-width="0.7"/><rect x="490.92" y="53.8" width="2.00" height="2.6" fill="#a82132" stroke="#6e1722" stroke-width="0.7"/><rect x="493.69" y="55.3" width="2.00" height="1.1" fill="#a82132" stroke="#6e1722" stroke-width="0.7"/><rect x="496.47" y="40.3" width="2.00" height="15.2" fill="#22a085" stroke="#155a4c" stroke-width="0.7"/><rect x="499.24" y="40.3" width="2.00" height="30.2" fill="#a82132" stroke="#6e1722" stroke-width="0.7"/><rect x="502.01" y="70.3" width="2.00" height="26.9" fill="#a82132" stroke="#6e1722" stroke-width="0.7"/><rect x="504.79" y="96.3" width="2.00" height="0.9" fill="#a82132" stroke="#6e1722" stroke-width="0.7"/><rect x="507.56" y="96.1" width="2.00" height="4.4" fill="#a82132" stroke="#6e1722" stroke-width="0.7"/><rect x="510.33" y="100.3" width="2.00" height="16.1" fill="#a82132" stroke="#6e1722" stroke-width="0.7"/><rect x="513.11" y="111.1" width="2.00" height="5.6" fill="#22a085" stroke="#155a4c" stroke-width="0.7"/><rect x="515.88" y="111.3" width="2.00" height="54.4" fill="#a82132" stroke="#6e1722" stroke-width="0.7"/><rect x="518.65" y="165.3" width="2.00" height="6.1" fill="#a82132" stroke="#6e1722" stroke-width="0.7"/><rect x="521.43" y="168.3" width="2.00" height="3.1" fill="#22a085" stroke="#155a4c" stroke-width="0.7"/><rect x="524.20" y="168.3" width="2.00" height="24.4" fill="#a82132" stroke="#6e1722" stroke-width="0.7"/><rect x="526.97" y="189.3" width="2.00" height="3.4" fill="#5a3a3a" stroke="#222" stroke-width="0.7"/><rect x="529.75" y="189.3" width="2.00" height="8.4" fill="#a82132" stroke="#6e1722" stroke-width="0.7"/><rect x="532.52" y="197.8" width="2.00" height="3.9" fill="#a82132" stroke="#6e1722" stroke-width="0.7"/><rect x="535.29" y="190.3" width="2.00" height="11.4" fill="#22a085" stroke="#155a4c" stroke-width="0.7"/><rect x="538.07" y="185.8" width="2.00" height="4.7" fill="#22a085" stroke="#155a4c" stroke-width="0.7"/><rect x="540.84" y="186.1" width="2.00" height="6.6" fill="#a82132" stroke="#6e1722" stroke-width="0.7"/><rect x="543.61" y="192.8" width="2.00" height="6.9" fill="#a82132" stroke="#6e1722" stroke-width="0.7"/><rect x="546.39" y="199.3" width="2.00" height="22.9" fill="#a82132" stroke="#6e1722" stroke-width="0.7"/><rect x="549.16" y="220.3" width="2.00" height="1.9" fill="#22a085" stroke="#155a4c" stroke-width="0.7"/><rect x="551.93" y="207.8" width="2.00" height="13.6" fill="#22a085" stroke="#155a4c" stroke-width="0.7"/><rect x="554.70" y="207.3" width="2.00" height="0.4" fill="#22a085" stroke="#155a4c" stroke-width="0.7"/><rect x="557.48" y="207.3" width="2.00" height="6.4" fill="#a82132" stroke="#6e1722" stroke-width="0.7"/><rect x="560.25" y="213.3" width="2.00" height="7.2" fill="#a82132" stroke="#6e1722" stroke-width="0.7"/><rect x="563.02" y="217.0" width="2.00" height="3.5" fill="#22a085" stroke="#155a4c" stroke-width="0.7"/><rect x="565.80" y="213.3" width="2.00" height="3.9" fill="#22a085" stroke="#155a4c" stroke-width="0.7"/><rect x="568.57" y="199.0" width="2.00" height="14.7" fill="#22a085" stroke="#155a4c" stroke-width="0.7"/><rect x="571.34" y="197.3" width="2.00" height="1.4" fill="#22a085" stroke="#155a4c" stroke-width="0.7"/><rect x="574.12" y="197.0" width="2.00" height="0.4" fill="#22a085" stroke="#155a4c" stroke-width="0.7"/><rect x="576.89" y="197.0" width="2.00" height="10.7" fill="#a82132" stroke="#6e1722" stroke-width="0.7"/><rect x="579.66" y="207.8" width="2.00" height="6.9" fill="#a82132" stroke="#6e1722" stroke-width="0.7"/><rect x="582.44" y="214.3" width="2.00" height="9.4" fill="#a82132" stroke="#6e1722" stroke-width="0.7"/><rect x="585.21" y="202.8" width="2.00" height="20.9" fill="#22a085" stroke="#155a4c" stroke-width="0.7"/><rect x="587.98" y="179.3" width="2.00" height="23.4" fill="#22a085" stroke="#155a4c" stroke-width="0.7"/><rect x="590.76" y="179.3" width="2.00" height="6.4" fill="#a82132" stroke="#6e1722" stroke-width="0.7"/><rect x="593.53" y="186.1" width="2.00" height="24.4" fill="#a82132" stroke="#6e1722" stroke-width="0.7"/><rect x="596.30" y="210.3" width="2.00" height="1.9" fill="#a82132" stroke="#6e1722" stroke-width="0.7"/><rect x="599.08" y="211.3" width="2.00" height="0.4" fill="#a82132" stroke="#6e1722" stroke-width="0.7"/><rect x="601.85" y="211.1" width="2.00" height="0.4" fill="#22a085" stroke="#155a4c" stroke-width="0.7"/><rect x="604.62" y="203.3" width="2.00" height="8.1" fill="#22a085" stroke="#155a4c" stroke-width="0.7"/><rect x="607.40" y="218.3" width="2.00" height="3.1" fill="#a82132" stroke="#6e1722" stroke-width="0.7"/><rect x="610.17" y="214.3" width="2.00" height="7.1" fill="#22a085" stroke="#155a4c" stroke-width="0.7"/><rect x="612.94" y="214.3" width="2.00" height="7.9" fill="#a82132" stroke="#6e1722" stroke-width="0.7"/><rect x="615.72" y="222.3" width="2.00" height="19.1" fill="#a82132" stroke="#6e1722" stroke-width="0.7"/><rect x="618.49" y="241.1" width="2.00" height="5.3" fill="#a82132" stroke="#6e1722" stroke-width="0.7"/><rect x="621.26" y="239.3" width="2.00" height="7.1" fill="#22a085" stroke="#155a4c" stroke-width="0.7"/><rect x="624.04" y="239.3" width="2.00" height="0.4" fill="#22a085" stroke="#155a4c" stroke-width="0.7"/><rect x="626.81" y="240.0" width="2.00" height="0.5" fill="#a82132" stroke="#6e1722" stroke-width="0.7"/><rect x="629.58" y="241.1" width="2.00" height="16.6" fill="#a82132" stroke="#6e1722" stroke-width="0.7"/><rect x="632.36" y="257.8" width="2.00" height="8.6" fill="#a82132" stroke="#6e1722" stroke-width="0.7"/><rect x="635.13" y="266.1" width="2.00" height="25.3" fill="#a82132" stroke="#6e1722" stroke-width="0.7"/><rect x="637.90" y="291.1" width="2.00" height="3.6" fill="#a82132" stroke="#6e1722" stroke-width="0.7"/><rect x="640.68" y="290.0" width="2.00" height="4.7" fill="#22a085" stroke="#155a4c" stroke-width="0.7"/><rect x="643.45" y="290.3" width="2.00" height="10.2" fill="#a82132" stroke="#6e1722" stroke-width="0.7"/><rect x="646.22" y="300.3" width="2.00" height="1.1" fill="#a82132" stroke="#6e1722" stroke-width="0.7"/><rect x="649.00" y="297.8" width="2.00" height="2.7" fill="#22a085" stroke="#155a4c" stroke-width="0.7"/><rect x="651.77" y="297.8" width="2.00" height="13.6" fill="#a82132" stroke="#6e1722" stroke-width="0.7"/><rect x="654.54" y="308.3" width="2.00" height="3.1" fill="#22a085" stroke="#155a4c" stroke-width="0.7"/><rect x="657.32" y="303.3" width="2.00" height="4.4" fill="#22a085" stroke="#155a4c" stroke-width="0.7"/><rect x="660.09" y="289.0" width="2.00" height="13.7" fill="#22a085" stroke="#155a4c" stroke-width="0.7"/><rect x="662.86" y="287.0" width="2.00" height="1.7" fill="#22a085" stroke="#155a4c" stroke-width="0.7"/><rect x="665.64" y="287.0" width="2.00" height="14.4" fill="#a82132" stroke="#6e1722" stroke-width="0.7"/><rect x="668.41" y="301.3" width="2.00" height="6.4" fill="#a82132" stroke="#6e1722" stroke-width="0.7"/><rect x="671.18" y="307.0" width="2.00" height="6.7" fill="#a82132" stroke="#6e1722" stroke-width="0.7"/><rect x="673.96" y="313.3" width="2.00" height="1.4" fill="#a82132" stroke="#6e1722" stroke-width="0.7"/><rect x="676.73" y="315.3" width="2.00" height="9.4" fill="#a82132" stroke="#6e1722" stroke-width="0.7"/><rect x="679.50" y="324.3" width="2.00" height="9.4" fill="#a82132" stroke="#6e1722" stroke-width="0.7"/><rect x="682.28" y="310.3" width="2.00" height="23.4" fill="#22a085" stroke="#155a4c" stroke-width="0.7"/><rect x="685.05" y="275.0" width="2.00" height="35.5" fill="#22a085" stroke="#155a4c" stroke-width="0.7"/><rect x="687.82" y="275.0" width="2.00" height="1.4" fill="#5a3a3a" stroke="#222" stroke-width="0.7"/><rect x="690.60" y="271.3" width="2.00" height="5.1" fill="#22a085" stroke="#155a4c" stroke-width="0.7"/><rect x="693.37" y="271.3" width="2.00" height="18.4" fill="#a82132" stroke="#6e1722" stroke-width="0.7"/><rect x="696.14" y="289.0" width="2.00" height="0.7" fill="#a82132" stroke="#6e1722" stroke-width="0.7"/><rect x="698.92" y="289.3" width="2.00" height="5.4" fill="#a82132" stroke="#6e1722" stroke-width="0.7"/><rect x="701.69" y="294.3" width="2.00" height="4.4" fill="#a82132" stroke="#6e1722" stroke-width="0.7"/><rect x="704.46" y="298.3" width="2.00" height="3.9" fill="#a82132" stroke="#6e1722" stroke-width="0.7"/><rect x="707.24" y="297.8" width="2.00" height="4.9" fill="#22a085" stroke="#155a4c" stroke-width="0.7"/><rect x="710.01" y="279.3" width="2.00" height="18.4" fill="#22a085" stroke="#155a4c" stroke-width="0.7"/><rect x="712.78" y="278.3" width="2.00" height="1.4" fill="#22a085" stroke="#155a4c" stroke-width="0.7"/><rect x="715.56" y="250.3" width="2.00" height="29.4" fill="#22a085" stroke="#155a4c" stroke-width="0.7"/><rect x="718.33" y="242.3" width="2.00" height="8.2" fill="#22a085" stroke="#155a4c" stroke-width="0.7"/><rect x="721.10" y="220.3" width="2.00" height="21.9" fill="#22a085" stroke="#155a4c" stroke-width="0.7"/><rect x="723.88" y="206.1" width="2.00" height="14.4" fill="#22a085" stroke="#155a4c" stroke-width="0.7"/><rect x="726.65" y="203.3" width="2.00" height="3.1" fill="#22a085" stroke="#155a4c" stroke-width="0.7"/><rect x="729.42" y="203.3" width="2.00" height="11.4" fill="#a82132" stroke="#6e1722" stroke-width="0.7"/><rect x="732.20" y="209.3" width="2.00" height="5.4" fill="#22a085" stroke="#155a4c" stroke-width="0.7"/><rect x="734.97" y="195.3" width="2.00" height="14.4" fill="#22a085" stroke="#155a4c" stroke-width="0.7"/><rect x="737.74" y="195.3" width="2.00" height="14.4" fill="#a82132" stroke="#6e1722" stroke-width="0.7"/><rect x="740.52" y="207.8" width="2.00" height="1.6" fill="#22a085" stroke="#155a4c" stroke-width="0.7"/><rect x="743.29" y="204.3" width="2.00" height="3.4" fill="#22a085" stroke="#155a4c" stroke-width="0.7"/><rect x="746.06" y="204.3" width="2.00" height="12.9" fill="#a82132" stroke="#6e1722" stroke-width="0.7"/><rect x="748.84" y="202.8" width="2.00" height="14.4" fill="#22a085" stroke="#155a4c" stroke-width="0.7"/><rect x="751.61" y="202.8" width="2.00" height="19.9" fill="#a82132" stroke="#6e1722" stroke-width="0.7"/><rect x="754.38" y="207.8" width="2.00" height="14.9" fill="#22a085" stroke="#155a4c" stroke-width="0.7"/><rect x="757.16" y="196.1" width="2.00" height="11.6" fill="#22a085" stroke="#155a4c" stroke-width="0.7"/><rect x="759.93" y="180.3" width="2.00" height="16.1" fill="#22a085" stroke="#155a4c" stroke-width="0.7"/><rect x="762.70" y="180.3" width="2.00" height="3.4" fill="#a82132" stroke="#6e1722" stroke-width="0.7"/><rect x="765.48" y="184.0" width="2.00" height="19.7" fill="#a82132" stroke="#6e1722" stroke-width="0.7"/><rect x="768.25" y="194.3" width="2.00" height="9.4" fill="#22a085" stroke="#155a4c" stroke-width="0.7"/><rect x="771.02" y="194.0" width="2.00" height="18.7" fill="#a82132" stroke="#6e1722" stroke-width="0.7"/><rect x="773.80" y="193.3" width="2.00" height="18.1" fill="#22a085" stroke="#155a4c" stroke-width="0.7"/><rect x="776.57" y="180.3" width="2.00" height="13.1" fill="#22a085" stroke="#155a4c" stroke-width="0.7"/><rect x="779.34" y="179.3" width="2.00" height="1.4" fill="#22a085" stroke="#155a4c" stroke-width="0.7"/><rect x="782.12" y="179.3" width="2.00" height="59.4" fill="#a82132" stroke="#6e1722" stroke-width="0.7"/><rect x="784.89" y="231.1" width="2.00" height="7.6" fill="#22a085" stroke="#155a4c" stroke-width="0.7"/><rect x="787.66" y="231.1" width="2.00" height="43.6" fill="#a82132" stroke="#6e1722" stroke-width="0.7"/><rect x="790.44" y="274.3" width="2.00" height="17.9" fill="#a82132" stroke="#6e1722" stroke-width="0.7"/><rect x="793.21" y="292.0" width="2.00" height="23.5" fill="#a82132" stroke="#6e1722" stroke-width="0.7"/><rect x="795.98" y="305.0" width="2.00" height="10.5" fill="#22a085" stroke="#155a4c" stroke-width="0.7"/><rect x="798.76" y="301.1" width="2.00" height="3.6" fill="#22a085" stroke="#155a4c" stroke-width="0.7"/><rect x="801.53" y="295.3" width="2.00" height="6.1" fill="#22a085" stroke="#155a4c" stroke-width="0.7"/><rect x="804.30" y="295.3" width="2.00" height="13.4" fill="#a82132" stroke="#6e1722" stroke-width="0.7"/><rect x="807.08" y="307.0" width="2.00" height="1.7" fill="#22a085" stroke="#155a4c" stroke-width="0.7"/><rect x="809.85" y="305.3" width="2.00" height="1.9" fill="#22a085" stroke="#155a4c" stroke-width="0.7"/><rect x="812.62" y="304.3" width="2.00" height="3.4" fill="#a82132" stroke="#6e1722" stroke-width="0.7"/><rect x="815.40" y="307.8" width="2.00" height="4.9" fill="#a82132" stroke="#6e1722" stroke-width="0.7"/><rect x="818.17" y="292.0" width="2.00" height="20.7" fill="#22a085" stroke="#155a4c" stroke-width="0.7"/><rect x="820.94" y="292.0" width="2.00" height="1.7" fill="#5a3a3a" stroke="#222" stroke-width="0.7"/><rect x="823.72" y="286.1" width="2.00" height="7.6" fill="#22a085" stroke="#155a4c" stroke-width="0.7"/><rect x="826.49" y="282.8" width="2.00" height="2.9" fill="#22a085" stroke="#155a4c" stroke-width="0.7"/><rect x="829.26" y="272.0" width="2.00" height="10.7" fill="#22a085" stroke="#155a4c" stroke-width="0.7"/><rect x="832.03" y="266.1" width="2.00" height="6.1" fill="#22a085" stroke="#155a4c" stroke-width="0.7"/><rect x="834.81" y="257.0" width="2.00" height="9.4" fill="#22a085" stroke="#155a4c" stroke-width="0.7"/><rect x="837.58" y="257.0" width="2.00" height="5.2" fill="#a82132" stroke="#6e1722" stroke-width="0.7"/><rect x="840.35" y="262.0" width="2.00" height="4.4" fill="#a82132" stroke="#6e1722" stroke-width="0.7"/><rect x="843.13" y="266.3" width="2.00" height="8.4" fill="#a82132" stroke="#6e1722" stroke-width="0.7"/><rect x="845.90" y="262.8" width="2.00" height="11.6" fill="#22a085" stroke="#155a4c" stroke-width="0.7"/><rect x="848.67" y="254.3" width="2.00" height="8.4" fill="#22a085" stroke="#155a4c" stroke-width="0.7"/><rect x="851.45" y="254.3" width="2.00" height="28.4" fill="#a82132" stroke="#6e1722" stroke-width="0.7"/><rect x="854.22" y="247.8" width="2.00" height="34.9" fill="#22a085" stroke="#155a4c" stroke-width="0.7"/><rect x="856.99" y="213.3" width="2.00" height="33.9" fill="#22a085" stroke="#155a4c" stroke-width="0.7"/><rect x="859.77" y="213.3" width="2.00" height="27.2" fill="#a82132" stroke="#6e1722" stroke-width="0.7"/><rect x="862.54" y="228.3" width="2.00" height="12.2" fill="#22a085" stroke="#155a4c" stroke-width="0.7"/><rect x="865.31" y="228.3" width="2.00" height="3.9" fill="#a82132" stroke="#6e1722" stroke-width="0.7"/><rect x="868.09" y="227.3" width="2.00" height="4.9" fill="#22a085" stroke="#155a4c" stroke-width="0.7"/><rect x="870.86" y="227.3" width="2.00" height="16.4" fill="#a82132" stroke="#6e1722" stroke-width="0.7"/><rect x="873.63" y="243.3" width="2.00" height="1.4" fill="#a82132" stroke="#6e1722" stroke-width="0.7"/><rect x="876.41" y="241.1" width="2.00" height="2.6" fill="#22a085" stroke="#155a4c" stroke-width="0.7"/><rect x="879.18" y="237.8" width="2.00" height="3.6" fill="#22a085" stroke="#155a4c" stroke-width="0.7"/><rect x="881.95" y="225.3" width="2.00" height="12.4" fill="#22a085" stroke="#155a4c" stroke-width="0.7"/><rect x="884.73" y="225.3" width="2.00" height="3.4" fill="#a82132" stroke="#6e1722" stroke-width="0.7"/><rect x="887.50" y="216.1" width="2.00" height="12.6" fill="#22a085" stroke="#155a4c" stroke-width="0.7"/><rect x="890.27" y="216.1" width="2.00" height="6.1" fill="#a82132" stroke="#6e1722" stroke-width="0.7"/><rect x="893.05" y="216.1" width="2.00" height="6.6" fill="#22a085" stroke="#155a4c" stroke-width="0.7"/><rect x="895.82" y="212.8" width="2.00" height="3.6" fill="#22a085" stroke="#155a4c" stroke-width="0.7"/><rect x="898.59" y="199.3" width="2.00" height="13.4" fill="#22a085" stroke="#155a4c" stroke-width="0.7"/><rect x="901.37" y="199.3" width="2.00" height="9.4" fill="#a82132" stroke="#6e1722" stroke-width="0.7"/><rect x="904.14" y="197.8" width="2.00" height="11.6" fill="#22a085" stroke="#155a4c" stroke-width="0.7"/><rect x="906.91" y="187.8" width="2.00" height="9.9" fill="#22a085" stroke="#155a4c" stroke-width="0.7"/><rect x="909.69" y="187.8" width="2.00" height="6.9" fill="#a82132" stroke="#6e1722" stroke-width="0.7"/><rect x="912.46" y="188.6" width="2.00" height="6.1" fill="#22a085" stroke="#155a4c" stroke-width="0.7"/><rect x="915.23" y="149.3" width="2.00" height="38.9" fill="#22a085" stroke="#155a4c" stroke-width="0.7"/><rect x="918.01" y="126.1" width="2.00" height="23.6" fill="#22a085" stroke="#155a4c" stroke-width="0.7"/><rect x="920.78" y="125.8" width="2.00" height="0.4" fill="#22a085" stroke="#155a4c" stroke-width="0.7"/><rect x="923.55" y="126.1" width="2.00" height="1.6" fill="#a82132" stroke="#6e1722" stroke-width="0.7"/><rect x="926.33" y="121.1" width="2.00" height="6.6" fill="#22a085" stroke="#155a4c" stroke-width="0.7"/><rect x="929.10" y="121.3" width="2.00" height="7.4" fill="#a82132" stroke="#6e1722" stroke-width="0.7"/><rect x="931.87" y="128.3" width="2.00" height="3.1" fill="#a82132" stroke="#6e1722" stroke-width="0.7"/><rect x="934.65" y="131.1" width="2.00" height="5.3" fill="#a82132" stroke="#6e1722" stroke-width="0.7"/><rect x="937.42" y="132.3" width="2.00" height="4.1" fill="#22a085" stroke="#155a4c" stroke-width="0.7"/><rect x="940.19" y="132.3" width="2.00" height="3.2" fill="#a82132" stroke="#6e1722" stroke-width="0.7"/><rect x="942.97" y="135.3" width="2.00" height="8.4" fill="#a82132" stroke="#6e1722" stroke-width="0.7"/><rect x="945.74" y="144.3" width="2.00" height="0.4" fill="#a82132" stroke="#6e1722" stroke-width="0.7"/><rect x="948.51" y="125.3" width="2.00" height="19.4" fill="#22a085" stroke="#155a4c" stroke-width="0.7"/><rect x="951.29" y="125.3" width="2.00" height="32.4" fill="#a82132" stroke="#6e1722" stroke-width="0.7"/><rect x="954.06" y="157.8" width="2.00" height="2.7" fill="#a82132" stroke="#6e1722" stroke-width="0.7"/><rect x="956.83" y="160.3" width="2.00" height="0.4" fill="#a82132" stroke="#6e1722" stroke-width="0.7"/><rect x="959.61" y="160.3" width="2.00" height="10.2" fill="#a82132" stroke="#6e1722" stroke-width="0.7"/><rect x="962.38" y="164.3" width="2.00" height="6.2" fill="#22a085" stroke="#155a4c" stroke-width="0.7"/><rect x="965.15" y="164.3" width="2.00" height="18.4" fill="#a82132" stroke="#6e1722" stroke-width="0.7"/><rect x="967.93" y="182.8" width="2.00" height="9.4" fill="#a82132" stroke="#6e1722" stroke-width="0.7"/><rect x="970.70" y="187.8" width="2.00" height="4.4" fill="#22a085" stroke="#155a4c" stroke-width="0.7"/><rect x="973.47" y="187.8" width="2.00" height="1.9" fill="#22a085" stroke="#155a4c" stroke-width="0.7"/><rect x="976.25" y="187.0" width="2.00" height="3.5" fill="#22a085" stroke="#155a4c" stroke-width="0.7"/><rect x="979.02" y="158.3" width="2.00" height="28.9" fill="#22a085" stroke="#155a4c" stroke-width="0.7"/><rect x="981.79" y="149.3" width="2.00" height="9.4" fill="#22a085" stroke="#155a4c" stroke-width="0.7"/><rect x="984.57" y="146.1" width="2.00" height="3.6" fill="#22a085" stroke="#155a4c" stroke-width="0.7"/><rect x="987.34" y="146.1" width="2.00" height="5.3" fill="#a82132" stroke="#6e1722" stroke-width="0.7"/><rect x="990.11" y="151.1" width="2.00" height="18.6" fill="#a82132" stroke="#6e1722" stroke-width="0.7"/><rect x="992.89" y="167.8" width="2.00" height="1.9" fill="#22a085" stroke="#155a4c" stroke-width="0.7"/><rect x="995.66" y="162.8" width="2.00" height="4.9" fill="#22a085" stroke="#155a4c" stroke-width="0.7"/><rect x="998.43" y="158.3" width="2.00" height="4.4" fill="#22a085" stroke="#155a4c" stroke-width="0.7"/>
<g stroke="#3585a6" stroke-width="1.15" stroke-linejoin="miter" fill="#cdeaf7"><path d="M9.3 574.2H2.5V596.7L21.9 596.9V596.4L9.3 591.3Z"/><path d="M34.5 574.2H41.4V596.7L21.9 596.9V596.4L34.5 591.3Z"/><path d="M9.3 572.1H5.7V594Q14 594.6 21.9 596.6V596L9.3 591.3Z"/><path d="M34.5 572.1H38.3V594Q30 594.6 21.9 596.6V596L34.5 591.3Z"/><path d="M9.3 569.4L21.9 575.4V596.4L9.3 591.3Z" fill="#fff"/><path d="M34.5 569.5L21.9 575.4V596.4L34.5 591.3Z" fill="#fff"/><path d="M21.9 575.4V596.7" stroke="#6a9fa8" stroke-width="1.5" fill="none"/></g>
<defs><linearGradient id="lg" x1="0" y1="579" x2="0" y2="596" gradientUnits="userSpaceOnUse"><stop offset="0" stop-color="#2f7fb2"/><stop offset="1" stop-color="#2a8c9c"/></linearGradient></defs><g fill="url(#lg)" stroke="url(#lg)" stroke-width="28"><path transform="matrix(0.01592 0.00000 0.00000 -0.01668 48.920 593.215)" d="M708 360H763Q764 375 766 405Q769 435 770 450H717ZM568 360 577 450H520Q514 390 510 360ZM539 120Q543 151 551 215H491Q488 188 477 120ZM679 120H741Q744 151 750 215H691Q683 151 679 120ZM45 700 145 820Q229 764 315 690L215 565Q133 637 45 700ZM195 325Q106 406 5 480L105 600Q214 524 295 450ZM260 510Q352 660 395 840L565 815Q559 785 555 770H965V625H510Q502 601 494 585H945Q941 521 929 360H985V215H916Q914 198 910 166Q907 134 906 120H955V-10H891Q891 -12 890 -15Q890 -18 890 -20Q883 -79 852 -102Q821 -125 750 -125H670L661 -10H456Q454 -20 450 -40Q447 -60 445 -70L280 -60Q301 49 326 215H300Q251 37 170 -100L25 -10Q105 131 160 310L275 268V360H346Q354 424 357 455Z"/><path transform="matrix(0.01639 0.00000 0.00000 -0.01731 67.790 593.569)" d="M295 240Q251 275 186 326Q151 271 135 250L25 390Q147 598 195 830L365 810Q356 756 346 715H575Q575 683 573 623Q606 589 640 556V820H825V404Q898 353 995 300L935 135Q881 164 825 200V-100H640V337Q599 371 548 419Q507 216 403 90Q299 -37 135 -100L50 50Q214 120 295 240ZM364 388Q388 469 395 560H298Q274 498 260 468Q310 430 364 388Z"/></g>
<path d="M89.1 579.3V595.3M88 580.3H96.4M88 587.5H96M102 579.2L111.5 595.3M111.1 579.2L101.6 595.3M119.1 580.2H127.5M119.4 579.4L116.2 588M127.1 580L125 595.2M120.5 594.3L125.4 594.4M120.5 584.5L125 587.6M139.9 579L130.5 589M135.5 584.5V595.3M146.6 579.3L144.5 594.3M143.6 594.2H152.3M150.2 588L153.2 595.3M157.6 580.4H165.6M165.4 580.2L157 595.3M161.8 589L166.9 595.3" stroke="url(#lg)" stroke-width="2.45" fill="none" stroke-linecap="butt"/><path d="M167.2 579.3L168 581.2M169.3 579.3L170.1 581.2" stroke="#2f7fb2" stroke-width="0.9" fill="none"/>
</svg>
<div class="lbl" style="left:6.6px;color:#1c1c1c;letter-spacing:-0.18px">MACD (12, 26, close)</div><div class="lbl" style="left:125.6px;color:#f9d0d6;letter-spacing:-0.3px">−0.028</div><div class="lbl" style="left:168.4px;color:#3f66d8;letter-spacing:-0.35px">−0.176</div><div class="lbl" style="left:211.6px;color:#ee7d2a;letter-spacing:-0.3px">−0.147</div>
</body></html>
